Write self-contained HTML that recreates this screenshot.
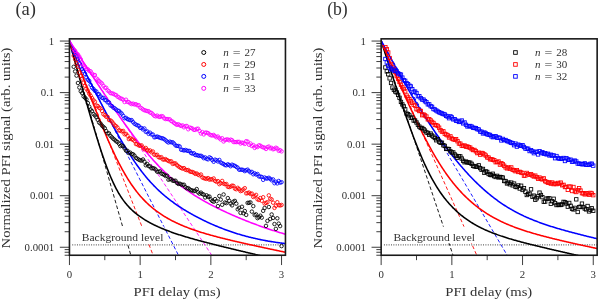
<!DOCTYPE html>
<html><head><meta charset="utf-8"><title>PFI decay</title>
<style>html,body{margin:0;padding:0;background:#fff;}body{width:598px;height:301px;overflow:hidden;font-family:"Liberation Serif",serif;}svg{display:block;}text{filter:grayscale(1);}</style></head>
<body>
<svg width="598" height="301" viewBox="0 0 598 301" font-family="'Liberation Serif', serif" fill="#303030">
<rect width="598" height="301" fill="#fff"/>
<defs>
<clipPath id="clipa"><rect x="69.45" y="38.85" width="216" height="216.4"/></clipPath>
<clipPath id="clipb"><rect x="381.15" y="38.85" width="216" height="216.4"/></clipPath>
</defs>
<g id="panel-a">
<g clip-path="url(#clipa)">
<line x1="72.25" y1="244.9" x2="285.45" y2="244.9" stroke="#2a2a2a" stroke-width="0.95" stroke-dasharray="0.95 1.41"/>
<line x1="69.45" y1="41.05" x2="131.4" y2="257.25" stroke="#000" stroke-width="0.9" stroke-dasharray="3.6 2.3"/>
<line x1="69.45" y1="41.05" x2="153.9" y2="257.25" stroke="#ff0000" stroke-width="0.9" stroke-dasharray="3.6 2.3"/>
<line x1="69.45" y1="41.05" x2="179.48" y2="257.25" stroke="#0000ff" stroke-width="0.9" stroke-dasharray="3.6 2.3"/>
<line x1="69.45" y1="41.05" x2="213.1" y2="257.25" stroke="#ff00ff" stroke-width="0.9" stroke-dasharray="3.6 2.3"/>
<rect x="80.55" y="226.6" width="84" height="16.6" fill="#fff"/>
<text x="81.75" y="240.5" font-size="10.9" textLength="81.6" lengthAdjust="spacingAndGlyphs">Background level</text>
<path d="M69.45 41.88 L70.18 44.5 L70.91 47.13 L71.64 49.75 L72.37 52.37 L73.1 54.99 L73.82 57.6 L74.55 60.22 L75.28 62.83 L76.01 65.44 L76.74 68.05 L77.47 70.65 L78.2 73.25 L78.93 75.85 L79.66 78.45 L80.39 81.04 L81.12 83.62 L81.84 86.21 L82.57 88.78 L83.3 91.36 L84.03 93.93 L84.76 96.49 L85.49 99.04 L86.22 101.59 L86.95 104.13 L87.68 106.66 L88.41 109.19 L89.14 111.7 L89.86 114.21 L90.59 116.7 L91.32 119.19 L92.05 121.66 L92.78 124.11 L93.51 126.56 L94.24 128.98 L94.97 131.39 L95.7 133.79 L96.43 136.16 L97.16 138.52 L97.88 140.85 L98.61 143.17 L99.34 145.45 L100.07 147.72 L100.8 149.96 L101.53 152.16 L102.26 154.34 L102.99 156.49 L103.72 158.61 L104.45 160.69 L105.18 162.74 L105.9 164.75 L106.63 166.73 L107.36 168.66 L108.09 170.56 L108.82 172.41 L109.55 174.22 L110.28 175.99 L111.01 177.72 L111.74 179.4 L112.47 181.04 L113.2 182.63 L113.92 184.17 L114.65 185.67 L115.38 187.13 L116.11 188.54 L116.84 189.91 L117.57 191.23 L118.3 192.52 L119.03 193.76 L119.76 194.96 L120.49 196.11 L121.22 197.23 L121.94 198.32 L122.67 199.36 L123.4 200.37 L124.13 201.35 L124.86 202.3 L125.59 203.21 L126.32 204.09 L127.05 204.95 L127.78 205.78 L128.51 206.58 L129.24 207.36 L129.97 208.11 L130.69 208.84 L131.42 209.55 L132.15 210.24 L132.88 210.91 L133.61 211.56 L134.34 212.19 L135.07 212.81 L135.8 213.41 L136.53 213.99 L137.26 214.56 L137.99 215.12 L138.71 215.66 L139.44 216.2 L140.17 216.71 L140.9 217.22 L141.63 217.72 L142.36 218.2 L143.09 218.68 L143.82 219.15 L144.55 219.6 L145.28 220.05 L146.01 220.49 L146.73 220.92 L147.46 221.34 L148.19 221.76 L148.92 222.17 L149.65 222.57 L150.38 222.96 L151.11 223.35 L151.84 223.73 L152.57 224.1 L153.3 224.47 L154.03 224.83 L154.75 225.19 L155.48 225.54 L156.21 225.89 L156.94 226.23 L157.67 226.56 L158.4 226.9 L159.13 227.22 L159.86 227.54 L160.59 227.86 L161.32 228.17 L162.05 228.48 L162.77 228.78 L163.5 229.08 L164.23 229.38 L164.96 229.67 L165.69 229.96 L166.42 230.25 L167.15 230.53 L167.88 230.81 L168.61 231.08 L169.34 231.35 L170.07 231.62 L170.79 231.89 L171.52 232.15 L172.25 232.41 L172.98 232.67 L173.71 232.92 L174.44 233.18 L175.17 233.42 L175.9 233.67 L176.63 233.92 L177.36 234.16 L178.09 234.4 L178.81 234.64 L179.54 234.87 L180.27 235.11 L181 235.34 L181.73 235.57 L182.46 235.8 L183.19 236.02 L183.92 236.25 L184.65 236.47 L185.38 236.69 L186.11 236.91 L186.83 237.13 L187.56 237.34 L188.29 237.56 L189.02 237.77 L189.75 237.98 L190.48 238.19 L191.21 238.4 L191.94 238.61 L192.67 238.82 L193.4 239.02 L194.13 239.23 L194.85 239.43 L195.58 239.63 L196.31 239.83 L197.04 240.03 L197.77 240.23 L198.5 240.43 L199.23 240.63 L199.96 240.82 L200.69 241.02 L201.42 241.21 L202.15 241.41 L202.87 241.6 L203.6 241.79 L204.33 241.98 L205.06 242.18 L205.79 242.37 L206.52 242.55 L207.25 242.74 L207.98 242.93 L208.71 243.12 L209.44 243.31 L210.17 243.49 L210.89 243.68 L211.62 243.87 L212.35 244.05 L213.08 244.23 L213.81 244.42 L214.54 244.6 L215.27 244.79 L216 244.97 L216.73 245.15 L217.46 245.33 L218.19 245.51 L218.91 245.69 L219.64 245.88 L220.37 246.06 L221.1 246.24 L221.83 246.42 L222.56 246.59 L223.29 246.77 L224.02 246.95 L224.75 247.13 L225.48 247.31 L226.21 247.49 L226.93 247.66 L227.66 247.84 L228.39 248.02 L229.12 248.2 L229.85 248.37 L230.58 248.55 L231.31 248.73 L232.04 248.9 L232.77 249.08 L233.5 249.25 L234.23 249.43 L234.96 249.6 L235.68 249.78 L236.41 249.95 L237.14 250.13 L237.87 250.3 L238.6 250.48 L239.33 250.65 L240.06 250.83 L240.79 251 L241.52 251.18 L242.25 251.35 L242.98 251.52 L243.7 251.7 L244.43 251.87 L245.16 252.04 L245.89 252.22 L246.62 252.39 L247.35 252.56 L248.08 252.74 L248.81 252.91 L249.54 253.08 L250.27 253.25 L251 253.43 L251.72 253.6 L252.45 253.77 L253.18 253.94 L253.91 254.12 L254.64 254.29 L255.37 254.46 L256.1 254.63 L256.83 254.81 L257.56 254.98 L258.29 255.15 L259.02 255.32 L259.74 255.49 L260.47 255.66 L261.2 255.84 L261.93 256.01 L262.66 256.18 L263.39 256.35 L264.12 256.52 L264.85 256.69 L265.58 256.87 L266.31 257.04 L267.04 257.21 L267.76 257.38 L268.49 257.55 L269.22 257.72 L269.95 257.89 L270.68 258.06 L271.41 258.24 L272.14 258.41 L272.87 258.58 L273.6 258.75 L274.33 258.92 L275.06 259.09 L275.78 259.26 L276.51 259.43 L277.24 259.6 L277.97 259.77 L278.7 259.95 L279.43 260.12 L280.16 260.29 L280.89 260.46 L281.62 260.63 L282.35 260.8 L283.08 260.97 L283.8 261.14 L284.53 261.31 L285.26 261.48 L285.99 261.65 L286.72 261.82 L287.45 261.99" fill="none" stroke="#000" stroke-width="1.55" stroke-linejoin="round"/>
<path d="M69.45 41.23 L70.18 43.19 L70.91 45.15 L71.64 47.1 L72.37 49.06 L73.1 51.01 L73.82 52.96 L74.55 54.91 L75.28 56.86 L76.01 58.8 L76.74 60.75 L77.47 62.69 L78.2 64.63 L78.93 66.57 L79.66 68.5 L80.39 70.43 L81.12 72.36 L81.84 74.29 L82.57 76.22 L83.3 78.14 L84.03 80.06 L84.76 81.97 L85.49 83.88 L86.22 85.79 L86.95 87.69 L87.68 89.59 L88.41 91.49 L89.14 93.38 L89.86 95.27 L90.59 97.15 L91.32 99.02 L92.05 100.89 L92.78 102.76 L93.51 104.62 L94.24 106.47 L94.97 108.32 L95.7 110.16 L96.43 111.99 L97.16 113.82 L97.88 115.64 L98.61 117.45 L99.34 119.25 L100.07 121.04 L100.8 122.83 L101.53 124.6 L102.26 126.36 L102.99 128.12 L103.72 129.86 L104.45 131.6 L105.18 133.32 L105.9 135.03 L106.63 136.73 L107.36 138.41 L108.09 140.08 L108.82 141.74 L109.55 143.39 L110.28 145.02 L111.01 146.63 L111.74 148.23 L112.47 149.82 L113.2 151.38 L113.92 152.94 L114.65 154.47 L115.38 155.99 L116.11 157.49 L116.84 158.97 L117.57 160.43 L118.3 161.88 L119.03 163.31 L119.76 164.71 L120.49 166.1 L121.22 167.47 L121.94 168.81 L122.67 170.14 L123.4 171.45 L124.13 172.73 L124.86 174 L125.59 175.24 L126.32 176.47 L127.05 177.67 L127.78 178.85 L128.51 180.01 L129.24 181.16 L129.97 182.27 L130.69 183.37 L131.42 184.45 L132.15 185.51 L132.88 186.55 L133.61 187.57 L134.34 188.57 L135.07 189.55 L135.8 190.51 L136.53 191.45 L137.26 192.37 L137.99 193.27 L138.71 194.16 L139.44 195.03 L140.17 195.88 L140.9 196.71 L141.63 197.53 L142.36 198.33 L143.09 199.11 L143.82 199.88 L144.55 200.63 L145.28 201.37 L146.01 202.09 L146.73 202.8 L147.46 203.49 L148.19 204.17 L148.92 204.84 L149.65 205.5 L150.38 206.14 L151.11 206.77 L151.84 207.39 L152.57 207.99 L153.3 208.58 L154.03 209.17 L154.75 209.74 L155.48 210.3 L156.21 210.85 L156.94 211.39 L157.67 211.92 L158.4 212.45 L159.13 212.96 L159.86 213.46 L160.59 213.96 L161.32 214.44 L162.05 214.92 L162.77 215.39 L163.5 215.85 L164.23 216.3 L164.96 216.75 L165.69 217.19 L166.42 217.62 L167.15 218.04 L167.88 218.46 L168.61 218.87 L169.34 219.27 L170.07 219.67 L170.79 220.06 L171.52 220.44 L172.25 220.82 L172.98 221.19 L173.71 221.56 L174.44 221.92 L175.17 222.28 L175.9 222.63 L176.63 222.98 L177.36 223.32 L178.09 223.65 L178.81 223.98 L179.54 224.31 L180.27 224.63 L181 224.95 L181.73 225.26 L182.46 225.57 L183.19 225.88 L183.92 226.18 L184.65 226.47 L185.38 226.77 L186.11 227.05 L186.83 227.34 L187.56 227.62 L188.29 227.9 L189.02 228.17 L189.75 228.44 L190.48 228.71 L191.21 228.98 L191.94 229.24 L192.67 229.5 L193.4 229.75 L194.13 230.01 L194.85 230.26 L195.58 230.5 L196.31 230.75 L197.04 230.99 L197.77 231.23 L198.5 231.47 L199.23 231.7 L199.96 231.93 L200.69 232.16 L201.42 232.39 L202.15 232.62 L202.87 232.84 L203.6 233.06 L204.33 233.28 L205.06 233.5 L205.79 233.71 L206.52 233.93 L207.25 234.14 L207.98 234.35 L208.71 234.56 L209.44 234.76 L210.17 234.97 L210.89 235.17 L211.62 235.38 L212.35 235.58 L213.08 235.78 L213.81 235.97 L214.54 236.17 L215.27 236.36 L216 236.56 L216.73 236.75 L217.46 236.94 L218.19 237.13 L218.91 237.32 L219.64 237.51 L220.37 237.7 L221.1 237.88 L221.83 238.07 L222.56 238.25 L223.29 238.43 L224.02 238.62 L224.75 238.8 L225.48 238.98 L226.21 239.16 L226.93 239.33 L227.66 239.51 L228.39 239.69 L229.12 239.86 L229.85 240.04 L230.58 240.21 L231.31 240.39 L232.04 240.56 L232.77 240.73 L233.5 240.91 L234.23 241.08 L234.96 241.25 L235.68 241.42 L236.41 241.59 L237.14 241.76 L237.87 241.92 L238.6 242.09 L239.33 242.26 L240.06 242.43 L240.79 242.59 L241.52 242.76 L242.25 242.92 L242.98 243.09 L243.7 243.25 L244.43 243.42 L245.16 243.58 L245.89 243.74 L246.62 243.91 L247.35 244.07 L248.08 244.23 L248.81 244.39 L249.54 244.56 L250.27 244.72 L251 244.88 L251.72 245.04 L252.45 245.2 L253.18 245.36 L253.91 245.52 L254.64 245.68 L255.37 245.84 L256.1 246 L256.83 246.16 L257.56 246.31 L258.29 246.47 L259.02 246.63 L259.74 246.79 L260.47 246.95 L261.2 247.1 L261.93 247.26 L262.66 247.42 L263.39 247.58 L264.12 247.73 L264.85 247.89 L265.58 248.05 L266.31 248.2 L267.04 248.36 L267.76 248.51 L268.49 248.67 L269.22 248.83 L269.95 248.98 L270.68 249.14 L271.41 249.29 L272.14 249.45 L272.87 249.6 L273.6 249.76 L274.33 249.91 L275.06 250.07 L275.78 250.22 L276.51 250.37 L277.24 250.53 L277.97 250.68 L278.7 250.84 L279.43 250.99 L280.16 251.15 L280.89 251.3 L281.62 251.45 L282.35 251.61 L283.08 251.76 L283.8 251.91 L284.53 252.07 L285.26 252.22 L285.99 252.37 L286.72 252.53 L287.45 252.68" fill="none" stroke="#ff0000" stroke-width="1.55" stroke-linejoin="round"/>
<path d="M69.45 40.5 L70.18 41.97 L70.91 43.45 L71.64 44.92 L72.37 46.39 L73.1 47.86 L73.82 49.33 L74.55 50.79 L75.28 52.26 L76.01 53.73 L76.74 55.2 L77.47 56.66 L78.2 58.13 L78.93 59.59 L79.66 61.05 L80.39 62.51 L81.12 63.97 L81.84 65.43 L82.57 66.89 L83.3 68.35 L84.03 69.81 L84.76 71.26 L85.49 72.71 L86.22 74.17 L86.95 75.62 L87.68 77.07 L88.41 78.51 L89.14 79.96 L89.86 81.4 L90.59 82.85 L91.32 84.29 L92.05 85.72 L92.78 87.16 L93.51 88.6 L94.24 90.03 L94.97 91.46 L95.7 92.89 L96.43 94.31 L97.16 95.73 L97.88 97.15 L98.61 98.57 L99.34 99.98 L100.07 101.4 L100.8 102.8 L101.53 104.21 L102.26 105.61 L102.99 107.01 L103.72 108.4 L104.45 109.79 L105.18 111.18 L105.9 112.56 L106.63 113.94 L107.36 115.31 L108.09 116.68 L108.82 118.04 L109.55 119.4 L110.28 120.76 L111.01 122.11 L111.74 123.45 L112.47 124.79 L113.2 126.12 L113.92 127.45 L114.65 128.77 L115.38 130.08 L116.11 131.39 L116.84 132.69 L117.57 133.98 L118.3 135.26 L119.03 136.54 L119.76 137.81 L120.49 139.08 L121.22 140.33 L121.94 141.58 L122.67 142.82 L123.4 144.05 L124.13 145.27 L124.86 146.48 L125.59 147.68 L126.32 148.87 L127.05 150.05 L127.78 151.23 L128.51 152.39 L129.24 153.54 L129.97 154.68 L130.69 155.82 L131.42 156.94 L132.15 158.05 L132.88 159.14 L133.61 160.23 L134.34 161.31 L135.07 162.37 L135.8 163.42 L136.53 164.46 L137.26 165.49 L137.99 166.51 L138.71 167.52 L139.44 168.51 L140.17 169.49 L140.9 170.46 L141.63 171.41 L142.36 172.36 L143.09 173.29 L143.82 174.21 L144.55 175.12 L145.28 176.01 L146.01 176.9 L146.73 177.77 L147.46 178.63 L148.19 179.47 L148.92 180.31 L149.65 181.13 L150.38 181.95 L151.11 182.75 L151.84 183.54 L152.57 184.32 L153.3 185.08 L154.03 185.84 L154.75 186.58 L155.48 187.32 L156.21 188.04 L156.94 188.76 L157.67 189.46 L158.4 190.16 L159.13 190.84 L159.86 191.51 L160.59 192.18 L161.32 192.84 L162.05 193.48 L162.77 194.12 L163.5 194.75 L164.23 195.37 L164.96 195.98 L165.69 196.59 L166.42 197.18 L167.15 197.77 L167.88 198.35 L168.61 198.93 L169.34 199.5 L170.07 200.05 L170.79 200.61 L171.52 201.15 L172.25 201.69 L172.98 202.23 L173.71 202.75 L174.44 203.27 L175.17 203.79 L175.9 204.3 L176.63 204.8 L177.36 205.3 L178.09 205.79 L178.81 206.28 L179.54 206.76 L180.27 207.24 L181 207.71 L181.73 208.18 L182.46 208.64 L183.19 209.1 L183.92 209.55 L184.65 210 L185.38 210.45 L186.11 210.89 L186.83 211.33 L187.56 211.76 L188.29 212.19 L189.02 212.61 L189.75 213.03 L190.48 213.45 L191.21 213.86 L191.94 214.27 L192.67 214.68 L193.4 215.08 L194.13 215.48 L194.85 215.87 L195.58 216.27 L196.31 216.65 L197.04 217.04 L197.77 217.42 L198.5 217.8 L199.23 218.18 L199.96 218.55 L200.69 218.92 L201.42 219.28 L202.15 219.65 L202.87 220.01 L203.6 220.36 L204.33 220.72 L205.06 221.07 L205.79 221.41 L206.52 221.76 L207.25 222.1 L207.98 222.44 L208.71 222.78 L209.44 223.11 L210.17 223.44 L210.89 223.77 L211.62 224.09 L212.35 224.41 L213.08 224.73 L213.81 225.04 L214.54 225.36 L215.27 225.67 L216 225.97 L216.73 226.28 L217.46 226.58 L218.19 226.88 L218.91 227.17 L219.64 227.47 L220.37 227.76 L221.1 228.05 L221.83 228.33 L222.56 228.61 L223.29 228.89 L224.02 229.17 L224.75 229.44 L225.48 229.71 L226.21 229.98 L226.93 230.24 L227.66 230.51 L228.39 230.77 L229.12 231.02 L229.85 231.28 L230.58 231.53 L231.31 231.78 L232.04 232.03 L232.77 232.27 L233.5 232.51 L234.23 232.75 L234.96 232.98 L235.68 233.22 L236.41 233.45 L237.14 233.67 L237.87 233.9 L238.6 234.12 L239.33 234.34 L240.06 234.56 L240.79 234.77 L241.52 234.98 L242.25 235.19 L242.98 235.4 L243.7 235.6 L244.43 235.81 L245.16 236.01 L245.89 236.2 L246.62 236.4 L247.35 236.59 L248.08 236.78 L248.81 236.96 L249.54 237.15 L250.27 237.33 L251 237.51 L251.72 237.69 L252.45 237.86 L253.18 238.03 L253.91 238.2 L254.64 238.37 L255.37 238.53 L256.1 238.7 L256.83 238.86 L257.56 239.02 L258.29 239.17 L259.02 239.33 L259.74 239.48 L260.47 239.63 L261.2 239.78 L261.93 239.92 L262.66 240.06 L263.39 240.21 L264.12 240.34 L264.85 240.48 L265.58 240.62 L266.31 240.75 L267.04 240.88 L267.76 241.01 L268.49 241.14 L269.22 241.26 L269.95 241.38 L270.68 241.5 L271.41 241.62 L272.14 241.74 L272.87 241.86 L273.6 241.97 L274.33 242.08 L275.06 242.19 L275.78 242.3 L276.51 242.41 L277.24 242.51 L277.97 242.62 L278.7 242.72 L279.43 242.82 L280.16 242.92 L280.89 243.01 L281.62 243.11 L282.35 243.2 L283.08 243.29 L283.8 243.38 L284.53 243.47 L285.26 243.56 L285.99 243.65 L286.72 243.73 L287.45 243.82" fill="none" stroke="#0000ff" stroke-width="1.55" stroke-linejoin="round"/>
<path d="M69.45 40.54 L70.18 41.67 L70.91 42.8 L71.64 43.94 L72.37 45.07 L73.1 46.2 L73.82 47.33 L74.55 48.46 L75.28 49.59 L76.01 50.72 L76.74 51.85 L77.47 52.98 L78.2 54.11 L78.93 55.24 L79.66 56.37 L80.39 57.5 L81.12 58.62 L81.84 59.75 L82.57 60.87 L83.3 62 L84.03 63.12 L84.76 64.25 L85.49 65.37 L86.22 66.49 L86.95 67.61 L87.68 68.73 L88.41 69.85 L89.14 70.97 L89.86 72.09 L90.59 73.21 L91.32 74.32 L92.05 75.44 L92.78 76.55 L93.51 77.67 L94.24 78.78 L94.97 79.89 L95.7 81 L96.43 82.11 L97.16 83.22 L97.88 84.32 L98.61 85.43 L99.34 86.53 L100.07 87.64 L100.8 88.74 L101.53 89.84 L102.26 90.94 L102.99 92.03 L103.72 93.13 L104.45 94.22 L105.18 95.32 L105.9 96.41 L106.63 97.5 L107.36 98.58 L108.09 99.67 L108.82 100.75 L109.55 101.83 L110.28 102.91 L111.01 103.99 L111.74 105.06 L112.47 106.14 L113.2 107.21 L113.92 108.27 L114.65 109.34 L115.38 110.4 L116.11 111.46 L116.84 112.52 L117.57 113.58 L118.3 114.63 L119.03 115.68 L119.76 116.72 L120.49 117.77 L121.22 118.81 L121.94 119.85 L122.67 120.88 L123.4 121.91 L124.13 122.94 L124.86 123.96 L125.59 124.98 L126.32 126 L127.05 127.01 L127.78 128.02 L128.51 129.02 L129.24 130.02 L129.97 131.02 L130.69 132.01 L131.42 133 L132.15 133.98 L132.88 134.96 L133.61 135.94 L134.34 136.9 L135.07 137.87 L135.8 138.83 L136.53 139.78 L137.26 140.73 L137.99 141.68 L138.71 142.62 L139.44 143.55 L140.17 144.48 L140.9 145.4 L141.63 146.32 L142.36 147.23 L143.09 148.13 L143.82 149.03 L144.55 149.93 L145.28 150.81 L146.01 151.69 L146.73 152.57 L147.46 153.44 L148.19 154.3 L148.92 155.15 L149.65 156 L150.38 156.85 L151.11 157.68 L151.84 158.51 L152.57 159.33 L153.3 160.15 L154.03 160.96 L154.75 161.76 L155.48 162.55 L156.21 163.34 L156.94 164.12 L157.67 164.89 L158.4 165.66 L159.13 166.42 L159.86 167.17 L160.59 167.92 L161.32 168.65 L162.05 169.39 L162.77 170.11 L163.5 170.83 L164.23 171.53 L164.96 172.24 L165.69 172.93 L166.42 173.62 L167.15 174.3 L167.88 174.98 L168.61 175.64 L169.34 176.3 L170.07 176.96 L170.79 177.6 L171.52 178.24 L172.25 178.88 L172.98 179.5 L173.71 180.12 L174.44 180.73 L175.17 181.34 L175.9 181.94 L176.63 182.53 L177.36 183.12 L178.09 183.7 L178.81 184.28 L179.54 184.85 L180.27 185.41 L181 185.97 L181.73 186.52 L182.46 187.06 L183.19 187.6 L183.92 188.14 L184.65 188.66 L185.38 189.19 L186.11 189.71 L186.83 190.22 L187.56 190.72 L188.29 191.23 L189.02 191.72 L189.75 192.22 L190.48 192.7 L191.21 193.19 L191.94 193.67 L192.67 194.14 L193.4 194.61 L194.13 195.07 L194.85 195.53 L195.58 195.99 L196.31 196.44 L197.04 196.89 L197.77 197.33 L198.5 197.77 L199.23 198.21 L199.96 198.64 L200.69 199.07 L201.42 199.5 L202.15 199.92 L202.87 200.34 L203.6 200.75 L204.33 201.16 L205.06 201.57 L205.79 201.98 L206.52 202.38 L207.25 202.78 L207.98 203.17 L208.71 203.57 L209.44 203.96 L210.17 204.34 L210.89 204.73 L211.62 205.11 L212.35 205.49 L213.08 205.87 L213.81 206.24 L214.54 206.61 L215.27 206.98 L216 207.35 L216.73 207.71 L217.46 208.07 L218.19 208.43 L218.91 208.79 L219.64 209.15 L220.37 209.5 L221.1 209.85 L221.83 210.2 L222.56 210.54 L223.29 210.89 L224.02 211.23 L224.75 211.57 L225.48 211.91 L226.21 212.25 L226.93 212.58 L227.66 212.91 L228.39 213.25 L229.12 213.57 L229.85 213.9 L230.58 214.23 L231.31 214.55 L232.04 214.87 L232.77 215.19 L233.5 215.51 L234.23 215.83 L234.96 216.14 L235.68 216.46 L236.41 216.77 L237.14 217.08 L237.87 217.39 L238.6 217.69 L239.33 218 L240.06 218.3 L240.79 218.6 L241.52 218.9 L242.25 219.2 L242.98 219.5 L243.7 219.8 L244.43 220.09 L245.16 220.38 L245.89 220.67 L246.62 220.96 L247.35 221.25 L248.08 221.54 L248.81 221.82 L249.54 222.11 L250.27 222.39 L251 222.67 L251.72 222.95 L252.45 223.23 L253.18 223.5 L253.91 223.78 L254.64 224.05 L255.37 224.32 L256.1 224.59 L256.83 224.86 L257.56 225.13 L258.29 225.39 L259.02 225.66 L259.74 225.92 L260.47 226.18 L261.2 226.44 L261.93 226.7 L262.66 226.95 L263.39 227.21 L264.12 227.46 L264.85 227.72 L265.58 227.97 L266.31 228.21 L267.04 228.46 L267.76 228.71 L268.49 228.95 L269.22 229.2 L269.95 229.44 L270.68 229.68 L271.41 229.92 L272.14 230.15 L272.87 230.39 L273.6 230.62 L274.33 230.86 L275.06 231.09 L275.78 231.32 L276.51 231.54 L277.24 231.77 L277.97 231.99 L278.7 232.22 L279.43 232.44 L280.16 232.66 L280.89 232.88 L281.62 233.1 L282.35 233.31 L283.08 233.52 L283.8 233.74 L284.53 233.95 L285.26 234.16 L285.99 234.37 L286.72 234.57 L287.45 234.78" fill="none" stroke="#ff00ff" stroke-width="1.55" stroke-linejoin="round"/>
<g fill="none" stroke="#000" stroke-width="0.85"><circle cx="73.69" cy="66.81" r="1.75"/><circle cx="75.11" cy="71.43" r="1.75"/><circle cx="76.52" cy="75.64" r="1.75"/><circle cx="77.93" cy="82.98" r="1.75"/><circle cx="79.35" cy="87.48" r="1.75"/><circle cx="80.76" cy="91.31" r="1.75"/><circle cx="82.18" cy="93.16" r="1.75"/><circle cx="83.59" cy="96.39" r="1.75"/><circle cx="85" cy="97.66" r="1.75"/><circle cx="86.42" cy="99.42" r="1.75"/><circle cx="87.83" cy="103.05" r="1.75"/><circle cx="89.25" cy="106.71" r="1.75"/><circle cx="90.66" cy="109.61" r="1.75"/><circle cx="92.07" cy="111.17" r="1.75"/><circle cx="93.49" cy="114.03" r="1.75"/><circle cx="94.9" cy="115.46" r="1.75"/><circle cx="96.32" cy="117.25" r="1.75"/><circle cx="97.73" cy="119.78" r="1.75"/><circle cx="99.14" cy="122.56" r="1.75"/><circle cx="100.56" cy="123.59" r="1.75"/><circle cx="101.97" cy="125.54" r="1.75"/><circle cx="103.39" cy="126.87" r="1.75"/><circle cx="104.8" cy="128.24" r="1.75"/><circle cx="106.21" cy="131.06" r="1.75"/><circle cx="107.63" cy="133.41" r="1.75"/><circle cx="109.04" cy="133.35" r="1.75"/><circle cx="110.46" cy="135.87" r="1.75"/><circle cx="111.87" cy="137.31" r="1.75"/><circle cx="113.28" cy="138.73" r="1.75"/><circle cx="114.7" cy="139.85" r="1.75"/><circle cx="116.11" cy="141.24" r="1.75"/><circle cx="117.53" cy="142.04" r="1.75"/><circle cx="118.94" cy="143.67" r="1.75"/><circle cx="120.35" cy="146.15" r="1.75"/><circle cx="121.77" cy="145.52" r="1.75"/><circle cx="123.18" cy="146.3" r="1.75"/><circle cx="124.6" cy="148.49" r="1.75"/><circle cx="126.01" cy="150.66" r="1.75"/><circle cx="127.42" cy="150.76" r="1.75"/><circle cx="128.84" cy="152.96" r="1.75"/><circle cx="130.25" cy="152.65" r="1.75"/><circle cx="131.67" cy="154.02" r="1.75"/><circle cx="133.08" cy="154.25" r="1.75"/><circle cx="134.49" cy="155.7" r="1.75"/><circle cx="135.91" cy="157.89" r="1.75"/><circle cx="137.32" cy="158.66" r="1.75"/><circle cx="138.74" cy="159.65" r="1.75"/><circle cx="140.15" cy="160.3" r="1.75"/><circle cx="141.56" cy="160.62" r="1.75"/><circle cx="142.98" cy="159.48" r="1.75"/><circle cx="144.39" cy="161.61" r="1.75"/><circle cx="145.81" cy="165.25" r="1.75"/><circle cx="147.22" cy="163.97" r="1.75"/><circle cx="148.63" cy="166.06" r="1.75"/><circle cx="150.05" cy="166.51" r="1.75"/><circle cx="151.46" cy="168.31" r="1.75"/><circle cx="152.88" cy="168.22" r="1.75"/><circle cx="154.29" cy="168.49" r="1.75"/><circle cx="155.7" cy="169.64" r="1.75"/><circle cx="157.12" cy="171.66" r="1.75"/><circle cx="158.53" cy="171.75" r="1.75"/><circle cx="159.95" cy="171.35" r="1.75"/><circle cx="161.36" cy="173.52" r="1.75"/><circle cx="162.77" cy="174.1" r="1.75"/><circle cx="164.19" cy="174.75" r="1.75"/><circle cx="165.6" cy="175.98" r="1.75"/><circle cx="167.02" cy="175.67" r="1.75"/><circle cx="168.43" cy="179.73" r="1.75"/><circle cx="169.84" cy="179.07" r="1.75"/><circle cx="171.26" cy="179.16" r="1.75"/><circle cx="172.67" cy="180.69" r="1.75"/><circle cx="174.09" cy="180.88" r="1.75"/><circle cx="175.5" cy="180.71" r="1.75"/><circle cx="176.91" cy="182.89" r="1.75"/><circle cx="178.33" cy="183.9" r="1.75"/><circle cx="179.74" cy="183.67" r="1.75"/><circle cx="181.16" cy="184.42" r="1.75"/><circle cx="182.57" cy="184.91" r="1.75"/><circle cx="183.98" cy="184.69" r="1.75"/><circle cx="185.4" cy="187.09" r="1.75"/><circle cx="186.81" cy="188.24" r="1.75"/><circle cx="188.23" cy="188.1" r="1.75"/><circle cx="189.64" cy="189.31" r="1.75"/><circle cx="191.05" cy="190.26" r="1.75"/><circle cx="192.47" cy="190.43" r="1.75"/><circle cx="193.88" cy="191.17" r="1.75"/><circle cx="195.3" cy="190.77" r="1.75"/><circle cx="196.71" cy="189.06" r="1.75"/><circle cx="198.12" cy="192.35" r="1.75"/><circle cx="199.54" cy="193.63" r="1.75"/><circle cx="200.95" cy="192.61" r="1.75"/><circle cx="202.37" cy="194.03" r="1.75"/><circle cx="203.78" cy="194.62" r="1.75"/><circle cx="205.19" cy="197.47" r="1.75"/><circle cx="206.61" cy="195.35" r="1.75"/><circle cx="208.02" cy="196.76" r="1.75"/><circle cx="209.44" cy="196.55" r="1.75"/><circle cx="210.85" cy="199.46" r="1.75"/><circle cx="212.26" cy="201" r="1.75"/><circle cx="213.68" cy="201.74" r="1.75"/><circle cx="215.09" cy="199.12" r="1.75"/><circle cx="216.51" cy="201.17" r="1.75"/><circle cx="217.92" cy="206.14" r="1.75"/><circle cx="219.33" cy="195.97" r="1.75"/><circle cx="220.75" cy="199.63" r="1.75"/><circle cx="222.16" cy="204.78" r="1.75"/><circle cx="223.58" cy="194.49" r="1.75"/><circle cx="224.99" cy="202.53" r="1.75"/><circle cx="226.4" cy="203.13" r="1.75"/><circle cx="227.82" cy="198.1" r="1.75"/><circle cx="229.23" cy="200.81" r="1.75"/><circle cx="230.65" cy="203.63" r="1.75"/><circle cx="232.06" cy="205.37" r="1.75"/><circle cx="233.47" cy="201.68" r="1.75"/><circle cx="234.89" cy="200.91" r="1.75"/><circle cx="236.3" cy="203.62" r="1.75"/><circle cx="237.72" cy="209.26" r="1.75"/><circle cx="239.13" cy="207.81" r="1.75"/><circle cx="240.54" cy="212.86" r="1.75"/><circle cx="241.96" cy="206.77" r="1.75"/><circle cx="243.37" cy="213.23" r="1.75"/><circle cx="244.79" cy="211.02" r="1.75"/><circle cx="246.2" cy="214.91" r="1.75"/><circle cx="247.61" cy="202.91" r="1.75"/><circle cx="249.03" cy="202.79" r="1.75"/><circle cx="250.44" cy="202.39" r="1.75"/><circle cx="251.86" cy="211.61" r="1.75"/><circle cx="253.27" cy="206.12" r="1.75"/><circle cx="254.68" cy="215" r="1.75"/><circle cx="256.1" cy="214.35" r="1.75"/><circle cx="257.51" cy="218.13" r="1.75"/><circle cx="258.93" cy="217.2" r="1.75"/><circle cx="260.34" cy="215.69" r="1.75"/><circle cx="261.75" cy="217.64" r="1.75"/><circle cx="263.17" cy="210.84" r="1.75"/><circle cx="264.58" cy="208.03" r="1.75"/><circle cx="266" cy="225.87" r="1.75"/><circle cx="267.41" cy="220.89" r="1.75"/><circle cx="268.82" cy="207.02" r="1.75"/><circle cx="270.24" cy="218.96" r="1.75"/><circle cx="271.65" cy="214.47" r="1.75"/><circle cx="273.07" cy="217.96" r="1.75"/><circle cx="274.48" cy="224.03" r="1.75"/><circle cx="275.89" cy="228.86" r="1.75"/><circle cx="277.31" cy="218.3" r="1.75"/><circle cx="278.72" cy="223.62" r="1.75"/><circle cx="280.14" cy="226.08" r="1.75"/><circle cx="281.55" cy="246.1" r="1.75"/></g>
<g fill="none" stroke="#ff0000" stroke-width="0.85"><circle cx="73.69" cy="55.78" r="1.75"/><circle cx="75.11" cy="59.28" r="1.75"/><circle cx="76.52" cy="63.53" r="1.75"/><circle cx="77.93" cy="66.72" r="1.75"/><circle cx="79.35" cy="72.57" r="1.75"/><circle cx="80.76" cy="76.13" r="1.75"/><circle cx="82.18" cy="78.55" r="1.75"/><circle cx="83.59" cy="82.84" r="1.75"/><circle cx="85" cy="85.66" r="1.75"/><circle cx="86.42" cy="88.75" r="1.75"/><circle cx="87.83" cy="90.75" r="1.75"/><circle cx="89.25" cy="93.7" r="1.75"/><circle cx="90.66" cy="95.81" r="1.75"/><circle cx="92.07" cy="98.2" r="1.75"/><circle cx="93.49" cy="100.31" r="1.75"/><circle cx="94.9" cy="101.72" r="1.75"/><circle cx="96.32" cy="105.48" r="1.75"/><circle cx="97.73" cy="106" r="1.75"/><circle cx="99.14" cy="107.78" r="1.75"/><circle cx="100.56" cy="108.47" r="1.75"/><circle cx="101.97" cy="110.92" r="1.75"/><circle cx="103.39" cy="114.24" r="1.75"/><circle cx="104.8" cy="115.14" r="1.75"/><circle cx="106.21" cy="116.73" r="1.75"/><circle cx="107.63" cy="116.97" r="1.75"/><circle cx="109.04" cy="120.04" r="1.75"/><circle cx="110.46" cy="120.32" r="1.75"/><circle cx="111.87" cy="121.58" r="1.75"/><circle cx="113.28" cy="123.36" r="1.75"/><circle cx="114.7" cy="125.16" r="1.75"/><circle cx="116.11" cy="126.22" r="1.75"/><circle cx="117.53" cy="127.67" r="1.75"/><circle cx="118.94" cy="130.41" r="1.75"/><circle cx="120.35" cy="130.68" r="1.75"/><circle cx="121.77" cy="131.4" r="1.75"/><circle cx="123.18" cy="130.94" r="1.75"/><circle cx="124.6" cy="134.24" r="1.75"/><circle cx="126.01" cy="133.85" r="1.75"/><circle cx="127.42" cy="135.61" r="1.75"/><circle cx="128.84" cy="139.05" r="1.75"/><circle cx="130.25" cy="138.16" r="1.75"/><circle cx="131.67" cy="139.25" r="1.75"/><circle cx="133.08" cy="139.71" r="1.75"/><circle cx="134.49" cy="140.97" r="1.75"/><circle cx="135.91" cy="144.04" r="1.75"/><circle cx="137.32" cy="144.28" r="1.75"/><circle cx="138.74" cy="145.42" r="1.75"/><circle cx="140.15" cy="145.82" r="1.75"/><circle cx="141.56" cy="145.34" r="1.75"/><circle cx="142.98" cy="147.53" r="1.75"/><circle cx="144.39" cy="149.2" r="1.75"/><circle cx="145.81" cy="147.95" r="1.75"/><circle cx="147.22" cy="149.87" r="1.75"/><circle cx="148.63" cy="151.04" r="1.75"/><circle cx="150.05" cy="150.41" r="1.75"/><circle cx="151.46" cy="152.3" r="1.75"/><circle cx="152.88" cy="151.5" r="1.75"/><circle cx="154.29" cy="154.66" r="1.75"/><circle cx="155.7" cy="155.03" r="1.75"/><circle cx="157.12" cy="154.77" r="1.75"/><circle cx="158.53" cy="157.14" r="1.75"/><circle cx="159.95" cy="157.67" r="1.75"/><circle cx="161.36" cy="157.15" r="1.75"/><circle cx="162.77" cy="159.39" r="1.75"/><circle cx="164.19" cy="159.59" r="1.75"/><circle cx="165.6" cy="159.1" r="1.75"/><circle cx="167.02" cy="160.13" r="1.75"/><circle cx="168.43" cy="160.92" r="1.75"/><circle cx="169.84" cy="161.55" r="1.75"/><circle cx="171.26" cy="161.26" r="1.75"/><circle cx="172.67" cy="163.88" r="1.75"/><circle cx="174.09" cy="163.39" r="1.75"/><circle cx="175.5" cy="163.39" r="1.75"/><circle cx="176.91" cy="165.1" r="1.75"/><circle cx="178.33" cy="166.22" r="1.75"/><circle cx="179.74" cy="167.21" r="1.75"/><circle cx="181.16" cy="167.98" r="1.75"/><circle cx="182.57" cy="168.67" r="1.75"/><circle cx="183.98" cy="168.09" r="1.75"/><circle cx="185.4" cy="169.71" r="1.75"/><circle cx="186.81" cy="170.13" r="1.75"/><circle cx="188.23" cy="169.99" r="1.75"/><circle cx="189.64" cy="171.37" r="1.75"/><circle cx="191.05" cy="171.83" r="1.75"/><circle cx="192.47" cy="172.03" r="1.75"/><circle cx="193.88" cy="172.69" r="1.75"/><circle cx="195.3" cy="173.86" r="1.75"/><circle cx="196.71" cy="173.5" r="1.75"/><circle cx="198.12" cy="174.66" r="1.75"/><circle cx="199.54" cy="175.32" r="1.75"/><circle cx="200.95" cy="174.5" r="1.75"/><circle cx="202.37" cy="177.45" r="1.75"/><circle cx="203.78" cy="178.09" r="1.75"/><circle cx="205.19" cy="178.58" r="1.75"/><circle cx="206.61" cy="178.93" r="1.75"/><circle cx="208.02" cy="178.05" r="1.75"/><circle cx="209.44" cy="179.63" r="1.75"/><circle cx="210.85" cy="179.22" r="1.75"/><circle cx="212.26" cy="179.49" r="1.75"/><circle cx="213.68" cy="178.45" r="1.75"/><circle cx="215.09" cy="180.96" r="1.75"/><circle cx="216.51" cy="181.81" r="1.75"/><circle cx="217.92" cy="181.08" r="1.75"/><circle cx="219.33" cy="184.17" r="1.75"/><circle cx="220.75" cy="183.18" r="1.75"/><circle cx="222.16" cy="180.93" r="1.75"/><circle cx="223.58" cy="183.66" r="1.75"/><circle cx="224.99" cy="184.2" r="1.75"/><circle cx="226.4" cy="184" r="1.75"/><circle cx="227.82" cy="186.81" r="1.75"/><circle cx="229.23" cy="187.09" r="1.75"/><circle cx="230.65" cy="186.59" r="1.75"/><circle cx="232.06" cy="185.63" r="1.75"/><circle cx="233.47" cy="185.92" r="1.75"/><circle cx="234.89" cy="188.64" r="1.75"/><circle cx="236.3" cy="189.24" r="1.75"/><circle cx="237.72" cy="187.84" r="1.75"/><circle cx="239.13" cy="189.11" r="1.75"/><circle cx="240.54" cy="191.1" r="1.75"/><circle cx="241.96" cy="190.63" r="1.75"/><circle cx="243.37" cy="189.43" r="1.75"/><circle cx="244.79" cy="188.16" r="1.75"/><circle cx="246.2" cy="193.37" r="1.75"/><circle cx="247.61" cy="193.12" r="1.75"/><circle cx="249.03" cy="192.56" r="1.75"/><circle cx="250.44" cy="193.88" r="1.75"/><circle cx="251.86" cy="193.57" r="1.75"/><circle cx="253.27" cy="196.95" r="1.75"/><circle cx="254.68" cy="196.14" r="1.75"/><circle cx="256.1" cy="194.88" r="1.75"/><circle cx="257.51" cy="199.3" r="1.75"/><circle cx="258.93" cy="200" r="1.75"/><circle cx="260.34" cy="198.09" r="1.75"/><circle cx="261.75" cy="200.79" r="1.75"/><circle cx="263.17" cy="197.24" r="1.75"/><circle cx="264.58" cy="203.59" r="1.75"/><circle cx="266" cy="202.86" r="1.75"/><circle cx="267.41" cy="202.19" r="1.75"/><circle cx="268.82" cy="195.39" r="1.75"/><circle cx="270.24" cy="198.78" r="1.75"/><circle cx="271.65" cy="199.43" r="1.75"/><circle cx="273.07" cy="202.7" r="1.75"/><circle cx="274.48" cy="207.9" r="1.75"/><circle cx="275.89" cy="205.85" r="1.75"/><circle cx="277.31" cy="202.2" r="1.75"/><circle cx="278.72" cy="205.13" r="1.75"/><circle cx="280.14" cy="205.46" r="1.75"/><circle cx="281.55" cy="204.94" r="1.75"/></g>
<g fill="none" stroke="#0000ff" stroke-width="0.85"><circle cx="73.69" cy="51.66" r="1.75"/><circle cx="75.11" cy="54.29" r="1.75"/><circle cx="76.52" cy="56.07" r="1.75"/><circle cx="77.93" cy="59.05" r="1.75"/><circle cx="79.35" cy="63.3" r="1.75"/><circle cx="80.76" cy="66.64" r="1.75"/><circle cx="82.18" cy="68.77" r="1.75"/><circle cx="83.59" cy="71.29" r="1.75"/><circle cx="85" cy="73.82" r="1.75"/><circle cx="86.42" cy="77.5" r="1.75"/><circle cx="87.83" cy="79.75" r="1.75"/><circle cx="89.25" cy="80.99" r="1.75"/><circle cx="90.66" cy="84.81" r="1.75"/><circle cx="92.07" cy="87.66" r="1.75"/><circle cx="93.49" cy="89.01" r="1.75"/><circle cx="94.9" cy="90.79" r="1.75"/><circle cx="96.32" cy="91.48" r="1.75"/><circle cx="97.73" cy="94.23" r="1.75"/><circle cx="99.14" cy="94.26" r="1.75"/><circle cx="100.56" cy="96.43" r="1.75"/><circle cx="101.97" cy="97.84" r="1.75"/><circle cx="103.39" cy="97.94" r="1.75"/><circle cx="104.8" cy="99.94" r="1.75"/><circle cx="106.21" cy="100.39" r="1.75"/><circle cx="107.63" cy="102.4" r="1.75"/><circle cx="109.04" cy="102.43" r="1.75"/><circle cx="110.46" cy="105.36" r="1.75"/><circle cx="111.87" cy="106.03" r="1.75"/><circle cx="113.28" cy="107.54" r="1.75"/><circle cx="114.7" cy="108.37" r="1.75"/><circle cx="116.11" cy="109.55" r="1.75"/><circle cx="117.53" cy="110.64" r="1.75"/><circle cx="118.94" cy="110.9" r="1.75"/><circle cx="120.35" cy="112.41" r="1.75"/><circle cx="121.77" cy="113.69" r="1.75"/><circle cx="123.18" cy="115.72" r="1.75"/><circle cx="124.6" cy="118.21" r="1.75"/><circle cx="126.01" cy="117.85" r="1.75"/><circle cx="127.42" cy="119.12" r="1.75"/><circle cx="128.84" cy="119.65" r="1.75"/><circle cx="130.25" cy="120.2" r="1.75"/><circle cx="131.67" cy="120.11" r="1.75"/><circle cx="133.08" cy="122.08" r="1.75"/><circle cx="134.49" cy="123.71" r="1.75"/><circle cx="135.91" cy="124.59" r="1.75"/><circle cx="137.32" cy="125.28" r="1.75"/><circle cx="138.74" cy="125.84" r="1.75"/><circle cx="140.15" cy="127.84" r="1.75"/><circle cx="141.56" cy="127.98" r="1.75"/><circle cx="142.98" cy="129.45" r="1.75"/><circle cx="144.39" cy="128.48" r="1.75"/><circle cx="145.81" cy="131.87" r="1.75"/><circle cx="147.22" cy="131.39" r="1.75"/><circle cx="148.63" cy="133.88" r="1.75"/><circle cx="150.05" cy="132.7" r="1.75"/><circle cx="151.46" cy="134.47" r="1.75"/><circle cx="152.88" cy="134.52" r="1.75"/><circle cx="154.29" cy="137.29" r="1.75"/><circle cx="155.7" cy="137.02" r="1.75"/><circle cx="157.12" cy="136.52" r="1.75"/><circle cx="158.53" cy="137.16" r="1.75"/><circle cx="159.95" cy="137.7" r="1.75"/><circle cx="161.36" cy="138.18" r="1.75"/><circle cx="162.77" cy="138.37" r="1.75"/><circle cx="164.19" cy="139.11" r="1.75"/><circle cx="165.6" cy="140.27" r="1.75"/><circle cx="167.02" cy="141.56" r="1.75"/><circle cx="168.43" cy="142.53" r="1.75"/><circle cx="169.84" cy="141.63" r="1.75"/><circle cx="171.26" cy="142.31" r="1.75"/><circle cx="172.67" cy="142.27" r="1.75"/><circle cx="174.09" cy="143.59" r="1.75"/><circle cx="175.5" cy="145.42" r="1.75"/><circle cx="176.91" cy="145.94" r="1.75"/><circle cx="178.33" cy="146.02" r="1.75"/><circle cx="179.74" cy="146.53" r="1.75"/><circle cx="181.16" cy="149.77" r="1.75"/><circle cx="182.57" cy="149.9" r="1.75"/><circle cx="183.98" cy="150.5" r="1.75"/><circle cx="185.4" cy="149.96" r="1.75"/><circle cx="186.81" cy="150.58" r="1.75"/><circle cx="188.23" cy="150.94" r="1.75"/><circle cx="189.64" cy="150.99" r="1.75"/><circle cx="191.05" cy="153.02" r="1.75"/><circle cx="192.47" cy="153.68" r="1.75"/><circle cx="193.88" cy="153.22" r="1.75"/><circle cx="195.3" cy="155.02" r="1.75"/><circle cx="196.71" cy="155.03" r="1.75"/><circle cx="198.12" cy="155.55" r="1.75"/><circle cx="199.54" cy="155.89" r="1.75"/><circle cx="200.95" cy="155.76" r="1.75"/><circle cx="202.37" cy="156.66" r="1.75"/><circle cx="203.78" cy="158.21" r="1.75"/><circle cx="205.19" cy="157.45" r="1.75"/><circle cx="206.61" cy="158.87" r="1.75"/><circle cx="208.02" cy="159.35" r="1.75"/><circle cx="209.44" cy="157.3" r="1.75"/><circle cx="210.85" cy="158.18" r="1.75"/><circle cx="212.26" cy="159.97" r="1.75"/><circle cx="213.68" cy="161.74" r="1.75"/><circle cx="215.09" cy="159.63" r="1.75"/><circle cx="216.51" cy="160.28" r="1.75"/><circle cx="217.92" cy="161.44" r="1.75"/><circle cx="219.33" cy="159.94" r="1.75"/><circle cx="220.75" cy="162.55" r="1.75"/><circle cx="222.16" cy="163.34" r="1.75"/><circle cx="223.58" cy="163.93" r="1.75"/><circle cx="224.99" cy="165.08" r="1.75"/><circle cx="226.4" cy="165.31" r="1.75"/><circle cx="227.82" cy="164.27" r="1.75"/><circle cx="229.23" cy="165.05" r="1.75"/><circle cx="230.65" cy="166.22" r="1.75"/><circle cx="232.06" cy="164.67" r="1.75"/><circle cx="233.47" cy="165.32" r="1.75"/><circle cx="234.89" cy="165.89" r="1.75"/><circle cx="236.3" cy="166.82" r="1.75"/><circle cx="237.72" cy="167.7" r="1.75"/><circle cx="239.13" cy="169.7" r="1.75"/><circle cx="240.54" cy="169.76" r="1.75"/><circle cx="241.96" cy="169.64" r="1.75"/><circle cx="243.37" cy="170.09" r="1.75"/><circle cx="244.79" cy="171.11" r="1.75"/><circle cx="246.2" cy="170.23" r="1.75"/><circle cx="247.61" cy="169.64" r="1.75"/><circle cx="249.03" cy="171.17" r="1.75"/><circle cx="250.44" cy="172.39" r="1.75"/><circle cx="251.86" cy="171.88" r="1.75"/><circle cx="253.27" cy="174.25" r="1.75"/><circle cx="254.68" cy="173.39" r="1.75"/><circle cx="256.1" cy="174.53" r="1.75"/><circle cx="257.51" cy="174.01" r="1.75"/><circle cx="258.93" cy="176.42" r="1.75"/><circle cx="260.34" cy="176.56" r="1.75"/><circle cx="261.75" cy="176.96" r="1.75"/><circle cx="263.17" cy="179.85" r="1.75"/><circle cx="264.58" cy="177.54" r="1.75"/><circle cx="266" cy="178.4" r="1.75"/><circle cx="267.41" cy="178.52" r="1.75"/><circle cx="268.82" cy="177.77" r="1.75"/><circle cx="270.24" cy="178.8" r="1.75"/><circle cx="271.65" cy="180.27" r="1.75"/><circle cx="273.07" cy="179.42" r="1.75"/><circle cx="274.48" cy="183.21" r="1.75"/><circle cx="275.89" cy="181.74" r="1.75"/><circle cx="277.31" cy="183.37" r="1.75"/><circle cx="278.72" cy="180.98" r="1.75"/><circle cx="280.14" cy="182.6" r="1.75"/><circle cx="281.55" cy="182.19" r="1.75"/></g>
<g fill="none" stroke="#ff00ff" stroke-width="0.85"><circle cx="73.69" cy="49.5" r="1.75"/><circle cx="75.11" cy="50.89" r="1.75"/><circle cx="76.52" cy="53.52" r="1.75"/><circle cx="77.93" cy="54.5" r="1.75"/><circle cx="79.35" cy="56.64" r="1.75"/><circle cx="80.76" cy="59.23" r="1.75"/><circle cx="82.18" cy="63.74" r="1.75"/><circle cx="83.59" cy="65.11" r="1.75"/><circle cx="85" cy="66.87" r="1.75"/><circle cx="86.42" cy="68.79" r="1.75"/><circle cx="87.83" cy="69.3" r="1.75"/><circle cx="89.25" cy="70.87" r="1.75"/><circle cx="90.66" cy="71.33" r="1.75"/><circle cx="92.07" cy="73.68" r="1.75"/><circle cx="93.49" cy="75.07" r="1.75"/><circle cx="94.9" cy="75.01" r="1.75"/><circle cx="96.32" cy="78.43" r="1.75"/><circle cx="97.73" cy="79.59" r="1.75"/><circle cx="99.14" cy="81.1" r="1.75"/><circle cx="100.56" cy="82.37" r="1.75"/><circle cx="101.97" cy="83.56" r="1.75"/><circle cx="103.39" cy="85.71" r="1.75"/><circle cx="104.8" cy="87.74" r="1.75"/><circle cx="106.21" cy="87.75" r="1.75"/><circle cx="107.63" cy="90.4" r="1.75"/><circle cx="109.04" cy="91.33" r="1.75"/><circle cx="110.46" cy="93.06" r="1.75"/><circle cx="111.87" cy="93.4" r="1.75"/><circle cx="113.28" cy="93.68" r="1.75"/><circle cx="114.7" cy="94.64" r="1.75"/><circle cx="116.11" cy="95.04" r="1.75"/><circle cx="117.53" cy="96.67" r="1.75"/><circle cx="118.94" cy="97.39" r="1.75"/><circle cx="120.35" cy="98.37" r="1.75"/><circle cx="121.77" cy="98.82" r="1.75"/><circle cx="123.18" cy="99.69" r="1.75"/><circle cx="124.6" cy="102.01" r="1.75"/><circle cx="126.01" cy="99.71" r="1.75"/><circle cx="127.42" cy="101.86" r="1.75"/><circle cx="128.84" cy="102.17" r="1.75"/><circle cx="130.25" cy="103.36" r="1.75"/><circle cx="131.67" cy="104.11" r="1.75"/><circle cx="133.08" cy="103.6" r="1.75"/><circle cx="134.49" cy="104.47" r="1.75"/><circle cx="135.91" cy="104.19" r="1.75"/><circle cx="137.32" cy="105.25" r="1.75"/><circle cx="138.74" cy="105.22" r="1.75"/><circle cx="140.15" cy="107.52" r="1.75"/><circle cx="141.56" cy="108.29" r="1.75"/><circle cx="142.98" cy="109.41" r="1.75"/><circle cx="144.39" cy="110.23" r="1.75"/><circle cx="145.81" cy="110.61" r="1.75"/><circle cx="147.22" cy="111.1" r="1.75"/><circle cx="148.63" cy="111.22" r="1.75"/><circle cx="150.05" cy="112.58" r="1.75"/><circle cx="151.46" cy="112.92" r="1.75"/><circle cx="152.88" cy="114.35" r="1.75"/><circle cx="154.29" cy="115.8" r="1.75"/><circle cx="155.7" cy="116.38" r="1.75"/><circle cx="157.12" cy="115.59" r="1.75"/><circle cx="158.53" cy="116.63" r="1.75"/><circle cx="159.95" cy="116.96" r="1.75"/><circle cx="161.36" cy="116.13" r="1.75"/><circle cx="162.77" cy="116.42" r="1.75"/><circle cx="164.19" cy="118.34" r="1.75"/><circle cx="165.6" cy="119.03" r="1.75"/><circle cx="167.02" cy="119.01" r="1.75"/><circle cx="168.43" cy="119.2" r="1.75"/><circle cx="169.84" cy="119.37" r="1.75"/><circle cx="171.26" cy="121.05" r="1.75"/><circle cx="172.67" cy="121.65" r="1.75"/><circle cx="174.09" cy="122.95" r="1.75"/><circle cx="175.5" cy="123.97" r="1.75"/><circle cx="176.91" cy="124.87" r="1.75"/><circle cx="178.33" cy="124.21" r="1.75"/><circle cx="179.74" cy="125.24" r="1.75"/><circle cx="181.16" cy="125.96" r="1.75"/><circle cx="182.57" cy="125.4" r="1.75"/><circle cx="183.98" cy="127.32" r="1.75"/><circle cx="185.4" cy="126.15" r="1.75"/><circle cx="186.81" cy="125.96" r="1.75"/><circle cx="188.23" cy="129.27" r="1.75"/><circle cx="189.64" cy="127.55" r="1.75"/><circle cx="191.05" cy="127.95" r="1.75"/><circle cx="192.47" cy="128.58" r="1.75"/><circle cx="193.88" cy="129.89" r="1.75"/><circle cx="195.3" cy="129.86" r="1.75"/><circle cx="196.71" cy="128.88" r="1.75"/><circle cx="198.12" cy="128.72" r="1.75"/><circle cx="199.54" cy="130.93" r="1.75"/><circle cx="200.95" cy="133.47" r="1.75"/><circle cx="202.37" cy="132.09" r="1.75"/><circle cx="203.78" cy="134.42" r="1.75"/><circle cx="205.19" cy="132.68" r="1.75"/><circle cx="206.61" cy="132.6" r="1.75"/><circle cx="208.02" cy="133.09" r="1.75"/><circle cx="209.44" cy="134.42" r="1.75"/><circle cx="210.85" cy="135.16" r="1.75"/><circle cx="212.26" cy="135.49" r="1.75"/><circle cx="213.68" cy="134.91" r="1.75"/><circle cx="215.09" cy="136.2" r="1.75"/><circle cx="216.51" cy="137.28" r="1.75"/><circle cx="217.92" cy="136.52" r="1.75"/><circle cx="219.33" cy="138.17" r="1.75"/><circle cx="220.75" cy="139.51" r="1.75"/><circle cx="222.16" cy="138.24" r="1.75"/><circle cx="223.58" cy="141.49" r="1.75"/><circle cx="224.99" cy="140.1" r="1.75"/><circle cx="226.4" cy="139.45" r="1.75"/><circle cx="227.82" cy="139.56" r="1.75"/><circle cx="229.23" cy="140.33" r="1.75"/><circle cx="230.65" cy="139.64" r="1.75"/><circle cx="232.06" cy="140.18" r="1.75"/><circle cx="233.47" cy="141.98" r="1.75"/><circle cx="234.89" cy="142.05" r="1.75"/><circle cx="236.3" cy="142.08" r="1.75"/><circle cx="237.72" cy="141.9" r="1.75"/><circle cx="239.13" cy="141.86" r="1.75"/><circle cx="240.54" cy="143.5" r="1.75"/><circle cx="241.96" cy="142.61" r="1.75"/><circle cx="243.37" cy="143.05" r="1.75"/><circle cx="244.79" cy="143.91" r="1.75"/><circle cx="246.2" cy="141.19" r="1.75"/><circle cx="247.61" cy="141.61" r="1.75"/><circle cx="249.03" cy="144.74" r="1.75"/><circle cx="250.44" cy="143.49" r="1.75"/><circle cx="251.86" cy="145.99" r="1.75"/><circle cx="253.27" cy="145.06" r="1.75"/><circle cx="254.68" cy="147.92" r="1.75"/><circle cx="256.1" cy="146.62" r="1.75"/><circle cx="257.51" cy="147.06" r="1.75"/><circle cx="258.93" cy="145.31" r="1.75"/><circle cx="260.34" cy="145.66" r="1.75"/><circle cx="261.75" cy="146.77" r="1.75"/><circle cx="263.17" cy="147.36" r="1.75"/><circle cx="264.58" cy="147.67" r="1.75"/><circle cx="266" cy="148.97" r="1.75"/><circle cx="267.41" cy="147.16" r="1.75"/><circle cx="268.82" cy="146.55" r="1.75"/><circle cx="270.24" cy="148.34" r="1.75"/><circle cx="271.65" cy="147.88" r="1.75"/><circle cx="273.07" cy="149.29" r="1.75"/><circle cx="274.48" cy="148.84" r="1.75"/><circle cx="275.89" cy="147.73" r="1.75"/><circle cx="277.31" cy="148.52" r="1.75"/><circle cx="278.72" cy="150.83" r="1.75"/><circle cx="280.14" cy="150.17" r="1.75"/><circle cx="281.55" cy="151.38" r="1.75"/></g>
</g>
<rect x="69.45" y="38.85" width="216" height="216.4" fill="none" stroke="#1a1a1a" stroke-width="1.6"/>
<g stroke="#1a1a1a" stroke-width="0.85" fill="none"><path d="M59.85 41.05H69.45"/><path d="M64.65 77.08H69.45"/><path d="M64.65 68H69.45"/><path d="M64.65 61.56H69.45"/><path d="M64.65 56.57H69.45"/><path d="M64.65 52.49H69.45"/><path d="M64.65 49.04H69.45"/><path d="M64.65 46.05H69.45"/><path d="M64.65 43.41H69.45"/><path d="M59.85 92.6H69.45"/><path d="M64.65 128.63H69.45"/><path d="M64.65 119.55H69.45"/><path d="M64.65 113.11H69.45"/><path d="M64.65 108.12H69.45"/><path d="M64.65 104.04H69.45"/><path d="M64.65 100.59H69.45"/><path d="M64.65 97.6H69.45"/><path d="M64.65 94.96H69.45"/><path d="M59.85 144.15H69.45"/><path d="M64.65 180.18H69.45"/><path d="M64.65 171.1H69.45"/><path d="M64.65 164.66H69.45"/><path d="M64.65 159.67H69.45"/><path d="M64.65 155.59H69.45"/><path d="M64.65 152.14H69.45"/><path d="M64.65 149.15H69.45"/><path d="M64.65 146.51H69.45"/><path d="M59.85 195.7H69.45"/><path d="M64.65 231.73H69.45"/><path d="M64.65 222.65H69.45"/><path d="M64.65 216.21H69.45"/><path d="M64.65 211.22H69.45"/><path d="M64.65 207.14H69.45"/><path d="M64.65 203.69H69.45"/><path d="M64.65 200.7H69.45"/><path d="M64.65 198.06H69.45"/><path d="M59.85 247.25H69.45"/><path d="M64.65 255.24H69.45"/><path d="M64.65 252.25H69.45"/><path d="M64.65 249.61H69.45"/><path d="M69.45 255.25V265.05"/><path d="M104.8 255.25V260.15"/><path d="M140.15 255.25V265.05"/><path d="M175.5 255.25V260.15"/><path d="M210.85 255.25V265.05"/><path d="M246.2 255.25V260.15"/><path d="M281.55 255.25V265.05"/></g>
<text x="54.25" y="44.6" font-size="10.8" text-anchor="end">1</text>
<text x="54.25" y="96.15" font-size="10.8" text-anchor="end">0.1</text>
<text x="54.25" y="147.7" font-size="10.8" text-anchor="end">0.01</text>
<text x="54.25" y="199.25" font-size="10.8" text-anchor="end">0.001</text>
<text x="54.25" y="250.8" font-size="10.8" text-anchor="end">0.0001</text>
<text x="69.45" y="277.8" font-size="10.8" text-anchor="middle">0</text>
<text x="140.15" y="277.8" font-size="10.8" text-anchor="middle">1</text>
<text x="210.85" y="277.8" font-size="10.8" text-anchor="middle">2</text>
<text x="281.55" y="277.8" font-size="10.8" text-anchor="middle">3</text>
<text x="177.05" y="296.1" font-size="13" text-anchor="middle" textLength="87" lengthAdjust="spacingAndGlyphs">PFI delay (ms)</text>
<text transform="translate(10.25 148.0) rotate(-90)" font-size="13" text-anchor="middle" textLength="200.8" lengthAdjust="spacingAndGlyphs">Normalized PFI signal (arb. units)</text>
<text x="15.45" y="15.3" font-size="19" textLength="20.6" lengthAdjust="spacingAndGlyphs">(a)</text>
<circle cx="203.75" cy="52.5" r="2" fill="none" stroke="#000" stroke-width="1"/>
<text y="56.1" font-size="11"><tspan x="223.25" font-style="italic">n</tspan><tspan x="232.75" textLength="7.8" lengthAdjust="spacingAndGlyphs">=</tspan><tspan x="244.45">27</tspan></text>
<circle cx="203.75" cy="64.45" r="2" fill="none" stroke="#ff0000" stroke-width="1"/>
<text y="68.05" font-size="11"><tspan x="223.25" font-style="italic">n</tspan><tspan x="232.75" textLength="7.8" lengthAdjust="spacingAndGlyphs">=</tspan><tspan x="244.45">29</tspan></text>
<circle cx="203.75" cy="76.4" r="2" fill="none" stroke="#0000ff" stroke-width="1"/>
<text y="80" font-size="11"><tspan x="223.25" font-style="italic">n</tspan><tspan x="232.75" textLength="7.8" lengthAdjust="spacingAndGlyphs">=</tspan><tspan x="244.45">31</tspan></text>
<circle cx="203.75" cy="88.35" r="2" fill="none" stroke="#ff00ff" stroke-width="1"/>
<text y="91.95" font-size="11"><tspan x="223.25" font-style="italic">n</tspan><tspan x="232.75" textLength="7.8" lengthAdjust="spacingAndGlyphs">=</tspan><tspan x="244.45">33</tspan></text>
</g>
<g id="panel-b">
<g clip-path="url(#clipb)">
<line x1="383.95" y1="244.9" x2="597.15" y2="244.9" stroke="#2a2a2a" stroke-width="0.95" stroke-dasharray="0.95 1.41"/>
<line x1="381.15" y1="41.05" x2="453.7" y2="257.25" stroke="#000" stroke-width="0.9" stroke-dasharray="3.6 2.3"/>
<line x1="381.15" y1="41.05" x2="477.67" y2="257.25" stroke="#ff0000" stroke-width="0.9" stroke-dasharray="3.6 2.3"/>
<line x1="381.15" y1="41.05" x2="508.33" y2="257.25" stroke="#0000ff" stroke-width="0.9" stroke-dasharray="3.6 2.3"/>
<rect x="392.25" y="226.6" width="84" height="16.6" fill="#fff"/>
<text x="393.45" y="240.5" font-size="10.9" textLength="81.6" lengthAdjust="spacingAndGlyphs">Background level</text>
<path d="M381.15 40.8 L381.88 43.09 L382.61 45.37 L383.34 47.65 L384.07 49.92 L384.8 52.2 L385.52 54.47 L386.25 56.74 L386.98 59 L387.71 61.26 L388.44 63.52 L389.17 65.78 L389.9 68.03 L390.63 70.28 L391.36 72.52 L392.09 74.76 L392.82 77 L393.54 79.23 L394.27 81.45 L395 83.67 L395.73 85.89 L396.46 88.09 L397.19 90.3 L397.92 92.49 L398.65 94.68 L399.38 96.86 L400.11 99.03 L400.84 101.19 L401.56 103.35 L402.29 105.5 L403.02 107.63 L403.75 109.76 L404.48 111.88 L405.21 113.98 L405.94 116.07 L406.67 118.16 L407.4 120.22 L408.13 122.28 L408.86 124.32 L409.58 126.35 L410.31 128.36 L411.04 130.36 L411.77 132.34 L412.5 134.3 L413.23 136.25 L413.96 138.18 L414.69 140.09 L415.42 141.98 L416.15 143.86 L416.88 145.71 L417.6 147.54 L418.33 149.35 L419.06 151.13 L419.79 152.9 L420.52 154.64 L421.25 156.36 L421.98 158.06 L422.71 159.73 L423.44 161.37 L424.17 162.99 L424.9 164.59 L425.62 166.16 L426.35 167.7 L427.08 169.22 L427.81 170.71 L428.54 172.18 L429.27 173.62 L430 175.04 L430.73 176.42 L431.46 177.79 L432.19 179.12 L432.92 180.43 L433.64 181.72 L434.37 182.98 L435.1 184.21 L435.83 185.42 L436.56 186.61 L437.29 187.77 L438.02 188.91 L438.75 190.03 L439.48 191.12 L440.21 192.19 L440.94 193.23 L441.67 194.26 L442.39 195.26 L443.12 196.25 L443.85 197.21 L444.58 198.15 L445.31 199.08 L446.04 199.98 L446.77 200.87 L447.5 201.74 L448.23 202.59 L448.96 203.42 L449.69 204.24 L450.41 205.04 L451.14 205.82 L451.87 206.59 L452.6 207.35 L453.33 208.08 L454.06 208.81 L454.79 209.52 L455.52 210.21 L456.25 210.89 L456.98 211.56 L457.71 212.22 L458.43 212.86 L459.16 213.49 L459.89 214.11 L460.62 214.72 L461.35 215.31 L462.08 215.9 L462.81 216.47 L463.54 217.03 L464.27 217.59 L465 218.13 L465.73 218.66 L466.45 219.18 L467.18 219.69 L467.91 220.2 L468.64 220.69 L469.37 221.17 L470.1 221.65 L470.83 222.12 L471.56 222.58 L472.29 223.03 L473.02 223.47 L473.75 223.9 L474.47 224.33 L475.2 224.75 L475.93 225.16 L476.66 225.57 L477.39 225.96 L478.12 226.36 L478.85 226.74 L479.58 227.12 L480.31 227.49 L481.04 227.85 L481.77 228.21 L482.49 228.57 L483.22 228.91 L483.95 229.26 L484.68 229.59 L485.41 229.92 L486.14 230.25 L486.87 230.57 L487.6 230.89 L488.33 231.2 L489.06 231.51 L489.79 231.81 L490.51 232.11 L491.24 232.4 L491.97 232.69 L492.7 232.97 L493.43 233.26 L494.16 233.53 L494.89 233.81 L495.62 234.08 L496.35 234.34 L497.08 234.61 L497.81 234.87 L498.53 235.12 L499.26 235.38 L499.99 235.63 L500.72 235.88 L501.45 236.12 L502.18 236.36 L502.91 236.6 L503.64 236.84 L504.37 237.08 L505.1 237.31 L505.83 237.54 L506.55 237.77 L507.28 237.99 L508.01 238.21 L508.74 238.44 L509.47 238.65 L510.2 238.87 L510.93 239.09 L511.66 239.3 L512.39 239.51 L513.12 239.72 L513.85 239.93 L514.57 240.14 L515.3 240.35 L516.03 240.55 L516.76 240.75 L517.49 240.95 L518.22 241.15 L518.95 241.35 L519.68 241.55 L520.41 241.75 L521.14 241.94 L521.87 242.14 L522.59 242.33 L523.32 242.52 L524.05 242.71 L524.78 242.9 L525.51 243.09 L526.24 243.28 L526.97 243.47 L527.7 243.65 L528.43 243.84 L529.16 244.02 L529.89 244.21 L530.61 244.39 L531.34 244.57 L532.07 244.76 L532.8 244.94 L533.53 245.12 L534.26 245.3 L534.99 245.48 L535.72 245.66 L536.45 245.84 L537.18 246.01 L537.91 246.19 L538.63 246.37 L539.36 246.54 L540.09 246.72 L540.82 246.9 L541.55 247.07 L542.28 247.25 L543.01 247.42 L543.74 247.6 L544.47 247.77 L545.2 247.94 L545.93 248.12 L546.66 248.29 L547.38 248.46 L548.11 248.63 L548.84 248.8 L549.57 248.98 L550.3 249.15 L551.03 249.32 L551.76 249.49 L552.49 249.66 L553.22 249.83 L553.95 250 L554.68 250.17 L555.4 250.34 L556.13 250.51 L556.86 250.68 L557.59 250.85 L558.32 251.01 L559.05 251.18 L559.78 251.35 L560.51 251.52 L561.24 251.69 L561.97 251.86 L562.7 252.02 L563.42 252.19 L564.15 252.36 L564.88 252.53 L565.61 252.69 L566.34 252.86 L567.07 253.03 L567.8 253.2 L568.53 253.36 L569.26 253.53 L569.99 253.7 L570.72 253.86 L571.44 254.03 L572.17 254.2 L572.9 254.36 L573.63 254.53 L574.36 254.69 L575.09 254.86 L575.82 255.03 L576.55 255.19 L577.28 255.36 L578.01 255.52 L578.74 255.69 L579.46 255.85 L580.19 256.02 L580.92 256.19 L581.65 256.35 L582.38 256.52 L583.11 256.68 L583.84 256.85 L584.57 257.01 L585.3 257.18 L586.03 257.34 L586.76 257.51 L587.48 257.67 L588.21 257.84 L588.94 258 L589.67 258.17 L590.4 258.33 L591.13 258.5 L591.86 258.66 L592.59 258.83 L593.32 258.99 L594.05 259.16 L594.78 259.32 L595.5 259.49 L596.23 259.65 L596.96 259.82 L597.69 259.98 L598.42 260.15 L599.15 260.31" fill="none" stroke="#000" stroke-width="1.55" stroke-linejoin="round"/>
<path d="M381.15 41 L381.88 42.73 L382.61 44.45 L383.34 46.18 L384.07 47.9 L384.8 49.61 L385.52 51.33 L386.25 53.05 L386.98 54.76 L387.71 56.47 L388.44 58.18 L389.17 59.88 L389.9 61.58 L390.63 63.28 L391.36 64.98 L392.09 66.68 L392.82 68.37 L393.54 70.06 L394.27 71.75 L395 73.43 L395.73 75.11 L396.46 76.79 L397.19 78.46 L397.92 80.13 L398.65 81.79 L399.38 83.46 L400.11 85.11 L400.84 86.77 L401.56 88.42 L402.29 90.06 L403.02 91.7 L403.75 93.34 L404.48 94.97 L405.21 96.59 L405.94 98.21 L406.67 99.82 L407.4 101.43 L408.13 103.04 L408.86 104.63 L409.58 106.22 L410.31 107.81 L411.04 109.38 L411.77 110.95 L412.5 112.52 L413.23 114.07 L413.96 115.62 L414.69 117.16 L415.42 118.7 L416.15 120.22 L416.88 121.74 L417.6 123.25 L418.33 124.75 L419.06 126.24 L419.79 127.72 L420.52 129.19 L421.25 130.65 L421.98 132.1 L422.71 133.55 L423.44 134.98 L424.17 136.4 L424.9 137.81 L425.62 139.22 L426.35 140.6 L427.08 141.98 L427.81 143.35 L428.54 144.71 L429.27 146.05 L430 147.38 L430.73 148.7 L431.46 150.01 L432.19 151.31 L432.92 152.59 L433.64 153.86 L434.37 155.12 L435.1 156.36 L435.83 157.59 L436.56 158.81 L437.29 160.02 L438.02 161.21 L438.75 162.39 L439.48 163.55 L440.21 164.71 L440.94 165.85 L441.67 166.97 L442.39 168.08 L443.12 169.18 L443.85 170.27 L444.58 171.34 L445.31 172.39 L446.04 173.44 L446.77 174.47 L447.5 175.49 L448.23 176.49 L448.96 177.48 L449.69 178.46 L450.41 179.43 L451.14 180.38 L451.87 181.32 L452.6 182.24 L453.33 183.16 L454.06 184.06 L454.79 184.94 L455.52 185.82 L456.25 186.68 L456.98 187.54 L457.71 188.37 L458.43 189.2 L459.16 190.02 L459.89 190.82 L460.62 191.61 L461.35 192.39 L462.08 193.16 L462.81 193.92 L463.54 194.67 L464.27 195.41 L465 196.13 L465.73 196.85 L466.45 197.55 L467.18 198.25 L467.91 198.93 L468.64 199.6 L469.37 200.27 L470.1 200.92 L470.83 201.57 L471.56 202.2 L472.29 202.83 L473.02 203.45 L473.75 204.05 L474.47 204.65 L475.2 205.24 L475.93 205.82 L476.66 206.4 L477.39 206.96 L478.12 207.52 L478.85 208.06 L479.58 208.6 L480.31 209.14 L481.04 209.66 L481.77 210.18 L482.49 210.68 L483.22 211.19 L483.95 211.68 L484.68 212.17 L485.41 212.65 L486.14 213.12 L486.87 213.58 L487.6 214.04 L488.33 214.49 L489.06 214.94 L489.79 215.38 L490.51 215.81 L491.24 216.24 L491.97 216.66 L492.7 217.07 L493.43 217.48 L494.16 217.88 L494.89 218.28 L495.62 218.67 L496.35 219.05 L497.08 219.43 L497.81 219.81 L498.53 220.18 L499.26 220.54 L499.99 220.9 L500.72 221.26 L501.45 221.6 L502.18 221.95 L502.91 222.29 L503.64 222.62 L504.37 222.96 L505.1 223.28 L505.83 223.6 L506.55 223.92 L507.28 224.24 L508.01 224.55 L508.74 224.85 L509.47 225.15 L510.2 225.45 L510.93 225.75 L511.66 226.04 L512.39 226.32 L513.12 226.61 L513.85 226.89 L514.57 227.16 L515.3 227.44 L516.03 227.71 L516.76 227.97 L517.49 228.24 L518.22 228.5 L518.95 228.76 L519.68 229.01 L520.41 229.27 L521.14 229.52 L521.87 229.76 L522.59 230.01 L523.32 230.25 L524.05 230.49 L524.78 230.73 L525.51 230.96 L526.24 231.2 L526.97 231.43 L527.7 231.65 L528.43 231.88 L529.16 232.1 L529.89 232.33 L530.61 232.55 L531.34 232.77 L532.07 232.98 L532.8 233.2 L533.53 233.41 L534.26 233.62 L534.99 233.83 L535.72 234.04 L536.45 234.24 L537.18 234.45 L537.91 234.65 L538.63 234.85 L539.36 235.05 L540.09 235.25 L540.82 235.45 L541.55 235.65 L542.28 235.84 L543.01 236.04 L543.74 236.23 L544.47 236.42 L545.2 236.61 L545.93 236.8 L546.66 236.99 L547.38 237.17 L548.11 237.36 L548.84 237.54 L549.57 237.73 L550.3 237.91 L551.03 238.09 L551.76 238.27 L552.49 238.45 L553.22 238.63 L553.95 238.81 L554.68 238.99 L555.4 239.17 L556.13 239.34 L556.86 239.52 L557.59 239.7 L558.32 239.87 L559.05 240.04 L559.78 240.22 L560.51 240.39 L561.24 240.56 L561.97 240.73 L562.7 240.9 L563.42 241.07 L564.15 241.24 L564.88 241.41 L565.61 241.58 L566.34 241.75 L567.07 241.91 L567.8 242.08 L568.53 242.25 L569.26 242.41 L569.99 242.58 L570.72 242.74 L571.44 242.91 L572.17 243.07 L572.9 243.24 L573.63 243.4 L574.36 243.56 L575.09 243.73 L575.82 243.89 L576.55 244.05 L577.28 244.21 L578.01 244.38 L578.74 244.54 L579.46 244.7 L580.19 244.86 L580.92 245.02 L581.65 245.18 L582.38 245.34 L583.11 245.5 L583.84 245.66 L584.57 245.82 L585.3 245.98 L586.03 246.14 L586.76 246.3 L587.48 246.45 L588.21 246.61 L588.94 246.77 L589.67 246.93 L590.4 247.09 L591.13 247.24 L591.86 247.4 L592.59 247.56 L593.32 247.71 L594.05 247.87 L594.78 248.03 L595.5 248.18 L596.23 248.34 L596.96 248.5 L597.69 248.65 L598.42 248.81 L599.15 248.97" fill="none" stroke="#ff0000" stroke-width="1.55" stroke-linejoin="round"/>
<path d="M381.15 40.57 L381.88 41.93 L382.61 43.29 L383.34 44.65 L384.07 46 L384.8 47.35 L385.52 48.7 L386.25 50.05 L386.98 51.39 L387.71 52.74 L388.44 54.08 L389.17 55.41 L389.9 56.75 L390.63 58.08 L391.36 59.41 L392.09 60.73 L392.82 62.06 L393.54 63.38 L394.27 64.7 L395 66.01 L395.73 67.32 L396.46 68.63 L397.19 69.94 L397.92 71.24 L398.65 72.54 L399.38 73.83 L400.11 75.12 L400.84 76.41 L401.56 77.7 L402.29 78.98 L403.02 80.26 L403.75 81.53 L404.48 82.8 L405.21 84.07 L405.94 85.33 L406.67 86.59 L407.4 87.84 L408.13 89.1 L408.86 90.34 L409.58 91.58 L410.31 92.82 L411.04 94.06 L411.77 95.29 L412.5 96.51 L413.23 97.73 L413.96 98.95 L414.69 100.16 L415.42 101.37 L416.15 102.57 L416.88 103.77 L417.6 104.96 L418.33 106.15 L419.06 107.34 L419.79 108.52 L420.52 109.69 L421.25 110.86 L421.98 112.02 L422.71 113.18 L423.44 114.34 L424.17 115.49 L424.9 116.63 L425.62 117.77 L426.35 118.9 L427.08 120.03 L427.81 121.15 L428.54 122.27 L429.27 123.38 L430 124.49 L430.73 125.59 L431.46 126.68 L432.19 127.77 L432.92 128.86 L433.64 129.94 L434.37 131.01 L435.1 132.08 L435.83 133.14 L436.56 134.19 L437.29 135.24 L438.02 136.29 L438.75 137.32 L439.48 138.36 L440.21 139.38 L440.94 140.4 L441.67 141.42 L442.39 142.43 L443.12 143.43 L443.85 144.43 L444.58 145.42 L445.31 146.4 L446.04 147.38 L446.77 148.36 L447.5 149.32 L448.23 150.28 L448.96 151.24 L449.69 152.19 L450.41 153.13 L451.14 154.06 L451.87 154.99 L452.6 155.92 L453.33 156.84 L454.06 157.75 L454.79 158.65 L455.52 159.55 L456.25 160.45 L456.98 161.33 L457.71 162.21 L458.43 163.09 L459.16 163.95 L459.89 164.82 L460.62 165.67 L461.35 166.52 L462.08 167.36 L462.81 168.2 L463.54 169.03 L464.27 169.85 L465 170.67 L465.73 171.48 L466.45 172.29 L467.18 173.08 L467.91 173.88 L468.64 174.66 L469.37 175.44 L470.1 176.21 L470.83 176.98 L471.56 177.74 L472.29 178.49 L473.02 179.24 L473.75 179.98 L474.47 180.71 L475.2 181.44 L475.93 182.16 L476.66 182.87 L477.39 183.58 L478.12 184.28 L478.85 184.98 L479.58 185.66 L480.31 186.35 L481.04 187.02 L481.77 187.69 L482.49 188.35 L483.22 189.01 L483.95 189.66 L484.68 190.3 L485.41 190.94 L486.14 191.57 L486.87 192.19 L487.6 192.81 L488.33 193.42 L489.06 194.02 L489.79 194.62 L490.51 195.21 L491.24 195.79 L491.97 196.37 L492.7 196.94 L493.43 197.51 L494.16 198.07 L494.89 198.62 L495.62 199.17 L496.35 199.71 L497.08 200.24 L497.81 200.77 L498.53 201.29 L499.26 201.81 L499.99 202.32 L500.72 202.83 L501.45 203.32 L502.18 203.82 L502.91 204.3 L503.64 204.78 L504.37 205.26 L505.1 205.73 L505.83 206.19 L506.55 206.65 L507.28 207.1 L508.01 207.55 L508.74 207.99 L509.47 208.42 L510.2 208.85 L510.93 209.28 L511.66 209.7 L512.39 210.11 L513.12 210.52 L513.85 210.93 L514.57 211.33 L515.3 211.72 L516.03 212.11 L516.76 212.5 L517.49 212.88 L518.22 213.25 L518.95 213.62 L519.68 213.99 L520.41 214.35 L521.14 214.71 L521.87 215.06 L522.59 215.41 L523.32 215.75 L524.05 216.1 L524.78 216.43 L525.51 216.76 L526.24 217.09 L526.97 217.42 L527.7 217.74 L528.43 218.06 L529.16 218.37 L529.89 218.68 L530.61 218.99 L531.34 219.29 L532.07 219.59 L532.8 219.88 L533.53 220.18 L534.26 220.47 L534.99 220.75 L535.72 221.04 L536.45 221.32 L537.18 221.59 L537.91 221.87 L538.63 222.14 L539.36 222.41 L540.09 222.68 L540.82 222.94 L541.55 223.2 L542.28 223.46 L543.01 223.72 L543.74 223.97 L544.47 224.22 L545.2 224.47 L545.93 224.72 L546.66 224.96 L547.38 225.21 L548.11 225.45 L548.84 225.68 L549.57 225.92 L550.3 226.16 L551.03 226.39 L551.76 226.62 L552.49 226.85 L553.22 227.07 L553.95 227.3 L554.68 227.52 L555.4 227.75 L556.13 227.97 L556.86 228.18 L557.59 228.4 L558.32 228.62 L559.05 228.83 L559.78 229.04 L560.51 229.26 L561.24 229.47 L561.97 229.67 L562.7 229.88 L563.42 230.09 L564.15 230.29 L564.88 230.5 L565.61 230.7 L566.34 230.9 L567.07 231.1 L567.8 231.3 L568.53 231.5 L569.26 231.7 L569.99 231.9 L570.72 232.09 L571.44 232.29 L572.17 232.48 L572.9 232.67 L573.63 232.86 L574.36 233.06 L575.09 233.25 L575.82 233.44 L576.55 233.62 L577.28 233.81 L578.01 234 L578.74 234.19 L579.46 234.37 L580.19 234.56 L580.92 234.74 L581.65 234.93 L582.38 235.11 L583.11 235.29 L583.84 235.47 L584.57 235.66 L585.3 235.84 L586.03 236.02 L586.76 236.2 L587.48 236.38 L588.21 236.56 L588.94 236.74 L589.67 236.91 L590.4 237.09 L591.13 237.27 L591.86 237.44 L592.59 237.62 L593.32 237.8 L594.05 237.97 L594.78 238.15 L595.5 238.32 L596.23 238.5 L596.96 238.67 L597.69 238.85 L598.42 239.02 L599.15 239.19" fill="none" stroke="#0000ff" stroke-width="1.55" stroke-linejoin="round"/>
<g fill="none" stroke="#000" stroke-width="0.85"><rect x="383.69" y="65.73" width="3.4" height="3.4"/><rect x="385.11" y="69.69" width="3.4" height="3.4"/><rect x="386.52" y="72.54" width="3.4" height="3.4"/><rect x="387.93" y="76.64" width="3.4" height="3.4"/><rect x="389.35" y="81.26" width="3.4" height="3.4"/><rect x="390.76" y="85.92" width="3.4" height="3.4"/><rect x="392.18" y="88.1" width="3.4" height="3.4"/><rect x="393.59" y="89.84" width="3.4" height="3.4"/><rect x="395" y="90.7" width="3.4" height="3.4"/><rect x="396.42" y="93.2" width="3.4" height="3.4"/><rect x="397.83" y="96.13" width="3.4" height="3.4"/><rect x="399.25" y="100.24" width="3.4" height="3.4"/><rect x="400.66" y="102.72" width="3.4" height="3.4"/><rect x="402.07" y="104.65" width="3.4" height="3.4"/><rect x="403.49" y="107.64" width="3.4" height="3.4"/><rect x="404.9" y="111.87" width="3.4" height="3.4"/><rect x="406.32" y="112.49" width="3.4" height="3.4"/><rect x="407.73" y="113.7" width="3.4" height="3.4"/><rect x="409.14" y="116.13" width="3.4" height="3.4"/><rect x="410.56" y="115.84" width="3.4" height="3.4"/><rect x="411.97" y="118.83" width="3.4" height="3.4"/><rect x="413.39" y="118.88" width="3.4" height="3.4"/><rect x="414.8" y="120.78" width="3.4" height="3.4"/><rect x="416.21" y="123.07" width="3.4" height="3.4"/><rect x="417.63" y="124.9" width="3.4" height="3.4"/><rect x="419.04" y="126.26" width="3.4" height="3.4"/><rect x="420.46" y="126.26" width="3.4" height="3.4"/><rect x="421.87" y="127.48" width="3.4" height="3.4"/><rect x="423.28" y="128.93" width="3.4" height="3.4"/><rect x="424.7" y="130.67" width="3.4" height="3.4"/><rect x="426.11" y="131.27" width="3.4" height="3.4"/><rect x="427.53" y="133.12" width="3.4" height="3.4"/><rect x="428.94" y="131.88" width="3.4" height="3.4"/><rect x="430.35" y="133.84" width="3.4" height="3.4"/><rect x="431.77" y="135.04" width="3.4" height="3.4"/><rect x="433.18" y="136.32" width="3.4" height="3.4"/><rect x="434.6" y="138.58" width="3.4" height="3.4"/><rect x="436.01" y="137.5" width="3.4" height="3.4"/><rect x="437.42" y="139.97" width="3.4" height="3.4"/><rect x="438.84" y="141.11" width="3.4" height="3.4"/><rect x="440.25" y="141.03" width="3.4" height="3.4"/><rect x="441.67" y="143.55" width="3.4" height="3.4"/><rect x="443.08" y="144.21" width="3.4" height="3.4"/><rect x="444.49" y="147.22" width="3.4" height="3.4"/><rect x="445.91" y="147.19" width="3.4" height="3.4"/><rect x="447.32" y="147.43" width="3.4" height="3.4"/><rect x="448.74" y="149.67" width="3.4" height="3.4"/><rect x="450.15" y="150.8" width="3.4" height="3.4"/><rect x="451.56" y="150.71" width="3.4" height="3.4"/><rect x="452.98" y="152.73" width="3.4" height="3.4"/><rect x="454.39" y="154.1" width="3.4" height="3.4"/><rect x="455.81" y="156.03" width="3.4" height="3.4"/><rect x="457.22" y="154.47" width="3.4" height="3.4"/><rect x="458.63" y="154.71" width="3.4" height="3.4"/><rect x="460.05" y="156.82" width="3.4" height="3.4"/><rect x="461.46" y="159.05" width="3.4" height="3.4"/><rect x="462.88" y="160.56" width="3.4" height="3.4"/><rect x="464.29" y="159.86" width="3.4" height="3.4"/><rect x="465.7" y="160.68" width="3.4" height="3.4"/><rect x="467.12" y="160.87" width="3.4" height="3.4"/><rect x="468.53" y="161.02" width="3.4" height="3.4"/><rect x="469.95" y="162.19" width="3.4" height="3.4"/><rect x="471.36" y="164.18" width="3.4" height="3.4"/><rect x="472.77" y="164.67" width="3.4" height="3.4"/><rect x="474.19" y="164.86" width="3.4" height="3.4"/><rect x="475.6" y="165.19" width="3.4" height="3.4"/><rect x="477.02" y="163.62" width="3.4" height="3.4"/><rect x="478.43" y="166.38" width="3.4" height="3.4"/><rect x="479.84" y="168.08" width="3.4" height="3.4"/><rect x="481.26" y="167.24" width="3.4" height="3.4"/><rect x="482.67" y="171.18" width="3.4" height="3.4"/><rect x="484.09" y="169.67" width="3.4" height="3.4"/><rect x="485.5" y="170.23" width="3.4" height="3.4"/><rect x="486.91" y="172.33" width="3.4" height="3.4"/><rect x="488.33" y="173.02" width="3.4" height="3.4"/><rect x="489.74" y="173.43" width="3.4" height="3.4"/><rect x="491.16" y="172.06" width="3.4" height="3.4"/><rect x="492.57" y="174.46" width="3.4" height="3.4"/><rect x="493.98" y="175.3" width="3.4" height="3.4"/><rect x="495.4" y="174.14" width="3.4" height="3.4"/><rect x="496.81" y="175.72" width="3.4" height="3.4"/><rect x="498.23" y="175.24" width="3.4" height="3.4"/><rect x="499.64" y="175.43" width="3.4" height="3.4"/><rect x="501.05" y="175.87" width="3.4" height="3.4"/><rect x="502.47" y="179.29" width="3.4" height="3.4"/><rect x="503.88" y="179.36" width="3.4" height="3.4"/><rect x="505.3" y="181.76" width="3.4" height="3.4"/><rect x="506.71" y="180.87" width="3.4" height="3.4"/><rect x="508.12" y="182.57" width="3.4" height="3.4"/><rect x="509.54" y="180.92" width="3.4" height="3.4"/><rect x="510.95" y="183.65" width="3.4" height="3.4"/><rect x="512.37" y="181.89" width="3.4" height="3.4"/><rect x="513.78" y="185.05" width="3.4" height="3.4"/><rect x="515.19" y="185.4" width="3.4" height="3.4"/><rect x="516.61" y="183.81" width="3.4" height="3.4"/><rect x="518.02" y="186.82" width="3.4" height="3.4"/><rect x="519.44" y="184.05" width="3.4" height="3.4"/><rect x="520.85" y="188.25" width="3.4" height="3.4"/><rect x="522.26" y="186.52" width="3.4" height="3.4"/><rect x="523.68" y="189.97" width="3.4" height="3.4"/><rect x="525.09" y="193.31" width="3.4" height="3.4"/><rect x="526.51" y="192.35" width="3.4" height="3.4"/><rect x="527.92" y="191.91" width="3.4" height="3.4"/><rect x="529.33" y="187.61" width="3.4" height="3.4"/><rect x="530.75" y="195.04" width="3.4" height="3.4"/><rect x="532.16" y="193.95" width="3.4" height="3.4"/><rect x="533.58" y="198.16" width="3.4" height="3.4"/><rect x="534.99" y="196.57" width="3.4" height="3.4"/><rect x="536.4" y="194.73" width="3.4" height="3.4"/><rect x="537.82" y="190.96" width="3.4" height="3.4"/><rect x="539.23" y="193.32" width="3.4" height="3.4"/><rect x="540.65" y="195.41" width="3.4" height="3.4"/><rect x="542.06" y="200.08" width="3.4" height="3.4"/><rect x="543.47" y="199.85" width="3.4" height="3.4"/><rect x="544.89" y="196.9" width="3.4" height="3.4"/><rect x="546.3" y="196.88" width="3.4" height="3.4"/><rect x="547.72" y="196.66" width="3.4" height="3.4"/><rect x="549.13" y="202.11" width="3.4" height="3.4"/><rect x="550.54" y="199.5" width="3.4" height="3.4"/><rect x="551.96" y="197.08" width="3.4" height="3.4"/><rect x="553.37" y="201.39" width="3.4" height="3.4"/><rect x="554.79" y="203.36" width="3.4" height="3.4"/><rect x="556.2" y="202.97" width="3.4" height="3.4"/><rect x="557.61" y="203.28" width="3.4" height="3.4"/><rect x="559.03" y="203.23" width="3.4" height="3.4"/><rect x="560.44" y="202.65" width="3.4" height="3.4"/><rect x="561.86" y="200.17" width="3.4" height="3.4"/><rect x="563.27" y="200.58" width="3.4" height="3.4"/><rect x="564.68" y="201.78" width="3.4" height="3.4"/><rect x="566.1" y="204.97" width="3.4" height="3.4"/><rect x="567.51" y="201.25" width="3.4" height="3.4"/><rect x="568.93" y="204.09" width="3.4" height="3.4"/><rect x="570.34" y="207.14" width="3.4" height="3.4"/><rect x="571.75" y="207.72" width="3.4" height="3.4"/><rect x="573.17" y="206.17" width="3.4" height="3.4"/><rect x="574.58" y="197.64" width="3.4" height="3.4"/><rect x="576" y="210.28" width="3.4" height="3.4"/><rect x="577.41" y="205.37" width="3.4" height="3.4"/><rect x="578.82" y="205.09" width="3.4" height="3.4"/><rect x="580.24" y="201.94" width="3.4" height="3.4"/><rect x="581.65" y="205.36" width="3.4" height="3.4"/><rect x="583.07" y="206.88" width="3.4" height="3.4"/><rect x="584.48" y="207.69" width="3.4" height="3.4"/><rect x="585.89" y="204.29" width="3.4" height="3.4"/><rect x="587.31" y="209.71" width="3.4" height="3.4"/><rect x="588.72" y="208.16" width="3.4" height="3.4"/><rect x="590.14" y="206.59" width="3.4" height="3.4"/><rect x="591.55" y="209.11" width="3.4" height="3.4"/></g>
<g fill="none" stroke="#ff0000" stroke-width="0.85"><rect x="383.69" y="45.49" width="3.4" height="3.4"/><rect x="385.11" y="47.55" width="3.4" height="3.4"/><rect x="386.52" y="50.85" width="3.4" height="3.4"/><rect x="387.93" y="56.33" width="3.4" height="3.4"/><rect x="389.35" y="62.27" width="3.4" height="3.4"/><rect x="390.76" y="65.68" width="3.4" height="3.4"/><rect x="392.18" y="67.65" width="3.4" height="3.4"/><rect x="393.59" y="70.44" width="3.4" height="3.4"/><rect x="395" y="74.47" width="3.4" height="3.4"/><rect x="396.42" y="77.15" width="3.4" height="3.4"/><rect x="397.83" y="80.3" width="3.4" height="3.4"/><rect x="399.25" y="82.94" width="3.4" height="3.4"/><rect x="400.66" y="85.36" width="3.4" height="3.4"/><rect x="402.07" y="87.3" width="3.4" height="3.4"/><rect x="403.49" y="89.67" width="3.4" height="3.4"/><rect x="404.9" y="93.89" width="3.4" height="3.4"/><rect x="406.32" y="95.74" width="3.4" height="3.4"/><rect x="407.73" y="97.54" width="3.4" height="3.4"/><rect x="409.14" y="99.46" width="3.4" height="3.4"/><rect x="410.56" y="101.09" width="3.4" height="3.4"/><rect x="411.97" y="103.14" width="3.4" height="3.4"/><rect x="413.39" y="103.91" width="3.4" height="3.4"/><rect x="414.8" y="107.46" width="3.4" height="3.4"/><rect x="416.21" y="107.81" width="3.4" height="3.4"/><rect x="417.63" y="109.33" width="3.4" height="3.4"/><rect x="419.04" y="109.24" width="3.4" height="3.4"/><rect x="420.46" y="113.51" width="3.4" height="3.4"/><rect x="421.87" y="112.8" width="3.4" height="3.4"/><rect x="423.28" y="113.71" width="3.4" height="3.4"/><rect x="424.7" y="114.83" width="3.4" height="3.4"/><rect x="426.11" y="117.65" width="3.4" height="3.4"/><rect x="427.53" y="117.48" width="3.4" height="3.4"/><rect x="428.94" y="118.71" width="3.4" height="3.4"/><rect x="430.35" y="120.2" width="3.4" height="3.4"/><rect x="431.77" y="121.28" width="3.4" height="3.4"/><rect x="433.18" y="123.29" width="3.4" height="3.4"/><rect x="434.6" y="123.39" width="3.4" height="3.4"/><rect x="436.01" y="124.25" width="3.4" height="3.4"/><rect x="437.42" y="125.99" width="3.4" height="3.4"/><rect x="438.84" y="128.51" width="3.4" height="3.4"/><rect x="440.25" y="129.96" width="3.4" height="3.4"/><rect x="441.67" y="129.6" width="3.4" height="3.4"/><rect x="443.08" y="132.16" width="3.4" height="3.4"/><rect x="444.49" y="132.77" width="3.4" height="3.4"/><rect x="445.91" y="133.62" width="3.4" height="3.4"/><rect x="447.32" y="135.79" width="3.4" height="3.4"/><rect x="448.74" y="134.66" width="3.4" height="3.4"/><rect x="450.15" y="136.8" width="3.4" height="3.4"/><rect x="451.56" y="137.47" width="3.4" height="3.4"/><rect x="452.98" y="138.14" width="3.4" height="3.4"/><rect x="454.39" y="137.44" width="3.4" height="3.4"/><rect x="455.81" y="139.55" width="3.4" height="3.4"/><rect x="457.22" y="141.8" width="3.4" height="3.4"/><rect x="458.63" y="141.96" width="3.4" height="3.4"/><rect x="460.05" y="143.97" width="3.4" height="3.4"/><rect x="461.46" y="144.21" width="3.4" height="3.4"/><rect x="462.88" y="143.81" width="3.4" height="3.4"/><rect x="464.29" y="144.96" width="3.4" height="3.4"/><rect x="465.7" y="144.8" width="3.4" height="3.4"/><rect x="467.12" y="145.56" width="3.4" height="3.4"/><rect x="468.53" y="145.92" width="3.4" height="3.4"/><rect x="469.95" y="147.43" width="3.4" height="3.4"/><rect x="471.36" y="148.34" width="3.4" height="3.4"/><rect x="472.77" y="148.25" width="3.4" height="3.4"/><rect x="474.19" y="149.6" width="3.4" height="3.4"/><rect x="475.6" y="151.42" width="3.4" height="3.4"/><rect x="477.02" y="151" width="3.4" height="3.4"/><rect x="478.43" y="152.95" width="3.4" height="3.4"/><rect x="479.84" y="151.26" width="3.4" height="3.4"/><rect x="481.26" y="151.74" width="3.4" height="3.4"/><rect x="482.67" y="152.67" width="3.4" height="3.4"/><rect x="484.09" y="153.83" width="3.4" height="3.4"/><rect x="485.5" y="155.71" width="3.4" height="3.4"/><rect x="486.91" y="155.9" width="3.4" height="3.4"/><rect x="488.33" y="157.61" width="3.4" height="3.4"/><rect x="489.74" y="157.47" width="3.4" height="3.4"/><rect x="491.16" y="158.02" width="3.4" height="3.4"/><rect x="492.57" y="158.43" width="3.4" height="3.4"/><rect x="493.98" y="160.52" width="3.4" height="3.4"/><rect x="495.4" y="160.28" width="3.4" height="3.4"/><rect x="496.81" y="159.81" width="3.4" height="3.4"/><rect x="498.23" y="162.91" width="3.4" height="3.4"/><rect x="499.64" y="161.55" width="3.4" height="3.4"/><rect x="501.05" y="162.52" width="3.4" height="3.4"/><rect x="502.47" y="164.03" width="3.4" height="3.4"/><rect x="503.88" y="165.68" width="3.4" height="3.4"/><rect x="505.3" y="166.67" width="3.4" height="3.4"/><rect x="506.71" y="165.74" width="3.4" height="3.4"/><rect x="508.12" y="167.06" width="3.4" height="3.4"/><rect x="509.54" y="165.74" width="3.4" height="3.4"/><rect x="510.95" y="168.16" width="3.4" height="3.4"/><rect x="512.37" y="168.49" width="3.4" height="3.4"/><rect x="513.78" y="169.5" width="3.4" height="3.4"/><rect x="515.19" y="168.44" width="3.4" height="3.4"/><rect x="516.61" y="170.29" width="3.4" height="3.4"/><rect x="518.02" y="170.15" width="3.4" height="3.4"/><rect x="519.44" y="170.82" width="3.4" height="3.4"/><rect x="520.85" y="171.28" width="3.4" height="3.4"/><rect x="522.26" y="173.96" width="3.4" height="3.4"/><rect x="523.68" y="173.78" width="3.4" height="3.4"/><rect x="525.09" y="171.26" width="3.4" height="3.4"/><rect x="526.51" y="172.46" width="3.4" height="3.4"/><rect x="527.92" y="173.06" width="3.4" height="3.4"/><rect x="529.33" y="172.41" width="3.4" height="3.4"/><rect x="530.75" y="173.85" width="3.4" height="3.4"/><rect x="532.16" y="174.81" width="3.4" height="3.4"/><rect x="533.58" y="173.92" width="3.4" height="3.4"/><rect x="534.99" y="175.4" width="3.4" height="3.4"/><rect x="536.4" y="177.08" width="3.4" height="3.4"/><rect x="537.82" y="175.84" width="3.4" height="3.4"/><rect x="539.23" y="177.23" width="3.4" height="3.4"/><rect x="540.65" y="177.7" width="3.4" height="3.4"/><rect x="542.06" y="176.65" width="3.4" height="3.4"/><rect x="543.47" y="179.47" width="3.4" height="3.4"/><rect x="544.89" y="180.29" width="3.4" height="3.4"/><rect x="546.3" y="180.99" width="3.4" height="3.4"/><rect x="547.72" y="180.78" width="3.4" height="3.4"/><rect x="549.13" y="181.93" width="3.4" height="3.4"/><rect x="550.54" y="180.8" width="3.4" height="3.4"/><rect x="551.96" y="182.42" width="3.4" height="3.4"/><rect x="553.37" y="181.88" width="3.4" height="3.4"/><rect x="554.79" y="182.4" width="3.4" height="3.4"/><rect x="556.2" y="181.24" width="3.4" height="3.4"/><rect x="557.61" y="181.95" width="3.4" height="3.4"/><rect x="559.03" y="180.92" width="3.4" height="3.4"/><rect x="560.44" y="183.57" width="3.4" height="3.4"/><rect x="561.86" y="183.13" width="3.4" height="3.4"/><rect x="563.27" y="185.34" width="3.4" height="3.4"/><rect x="564.68" y="185.16" width="3.4" height="3.4"/><rect x="566.1" y="188.18" width="3.4" height="3.4"/><rect x="567.51" y="184.89" width="3.4" height="3.4"/><rect x="568.93" y="184.99" width="3.4" height="3.4"/><rect x="570.34" y="189.31" width="3.4" height="3.4"/><rect x="571.75" y="185.3" width="3.4" height="3.4"/><rect x="573.17" y="189.63" width="3.4" height="3.4"/><rect x="574.58" y="190.34" width="3.4" height="3.4"/><rect x="576" y="188.37" width="3.4" height="3.4"/><rect x="577.41" y="186.54" width="3.4" height="3.4"/><rect x="578.82" y="188.82" width="3.4" height="3.4"/><rect x="580.24" y="191.49" width="3.4" height="3.4"/><rect x="581.65" y="191.65" width="3.4" height="3.4"/><rect x="583.07" y="192.69" width="3.4" height="3.4"/><rect x="584.48" y="191.57" width="3.4" height="3.4"/><rect x="585.89" y="191.89" width="3.4" height="3.4"/><rect x="587.31" y="193.17" width="3.4" height="3.4"/><rect x="588.72" y="191.2" width="3.4" height="3.4"/><rect x="590.14" y="191.73" width="3.4" height="3.4"/><rect x="591.55" y="193.47" width="3.4" height="3.4"/></g>
<g fill="none" stroke="#0000ff" stroke-width="0.85"><rect x="383.69" y="57.27" width="3.4" height="3.4"/><rect x="385.11" y="60.82" width="3.4" height="3.4"/><rect x="386.52" y="63.95" width="3.4" height="3.4"/><rect x="387.93" y="65.87" width="3.4" height="3.4"/><rect x="389.35" y="67.72" width="3.4" height="3.4"/><rect x="390.76" y="66.95" width="3.4" height="3.4"/><rect x="392.18" y="68.86" width="3.4" height="3.4"/><rect x="393.59" y="69.13" width="3.4" height="3.4"/><rect x="395" y="69.79" width="3.4" height="3.4"/><rect x="396.42" y="71.62" width="3.4" height="3.4"/><rect x="397.83" y="72.42" width="3.4" height="3.4"/><rect x="399.25" y="72.95" width="3.4" height="3.4"/><rect x="400.66" y="75.91" width="3.4" height="3.4"/><rect x="402.07" y="78.43" width="3.4" height="3.4"/><rect x="403.49" y="79.09" width="3.4" height="3.4"/><rect x="404.9" y="81.43" width="3.4" height="3.4"/><rect x="406.32" y="82.56" width="3.4" height="3.4"/><rect x="407.73" y="84" width="3.4" height="3.4"/><rect x="409.14" y="84.68" width="3.4" height="3.4"/><rect x="410.56" y="87.49" width="3.4" height="3.4"/><rect x="411.97" y="90.06" width="3.4" height="3.4"/><rect x="413.39" y="89.88" width="3.4" height="3.4"/><rect x="414.8" y="91.35" width="3.4" height="3.4"/><rect x="416.21" y="94.5" width="3.4" height="3.4"/><rect x="417.63" y="94.53" width="3.4" height="3.4"/><rect x="419.04" y="96.47" width="3.4" height="3.4"/><rect x="420.46" y="97.84" width="3.4" height="3.4"/><rect x="421.87" y="97.95" width="3.4" height="3.4"/><rect x="423.28" y="99.53" width="3.4" height="3.4"/><rect x="424.7" y="100.51" width="3.4" height="3.4"/><rect x="426.11" y="102.61" width="3.4" height="3.4"/><rect x="427.53" y="102.67" width="3.4" height="3.4"/><rect x="428.94" y="104.45" width="3.4" height="3.4"/><rect x="430.35" y="105.11" width="3.4" height="3.4"/><rect x="431.77" y="107.3" width="3.4" height="3.4"/><rect x="433.18" y="107.82" width="3.4" height="3.4"/><rect x="434.6" y="108.8" width="3.4" height="3.4"/><rect x="436.01" y="109.77" width="3.4" height="3.4"/><rect x="437.42" y="110.52" width="3.4" height="3.4"/><rect x="438.84" y="111.22" width="3.4" height="3.4"/><rect x="440.25" y="111.77" width="3.4" height="3.4"/><rect x="441.67" y="112.31" width="3.4" height="3.4"/><rect x="443.08" y="112.78" width="3.4" height="3.4"/><rect x="444.49" y="114.19" width="3.4" height="3.4"/><rect x="445.91" y="114.86" width="3.4" height="3.4"/><rect x="447.32" y="116.51" width="3.4" height="3.4"/><rect x="448.74" y="114.64" width="3.4" height="3.4"/><rect x="450.15" y="115.65" width="3.4" height="3.4"/><rect x="451.56" y="117.6" width="3.4" height="3.4"/><rect x="452.98" y="117.46" width="3.4" height="3.4"/><rect x="454.39" y="119.04" width="3.4" height="3.4"/><rect x="455.81" y="119.17" width="3.4" height="3.4"/><rect x="457.22" y="120.26" width="3.4" height="3.4"/><rect x="458.63" y="119.91" width="3.4" height="3.4"/><rect x="460.05" y="118.81" width="3.4" height="3.4"/><rect x="461.46" y="121.71" width="3.4" height="3.4"/><rect x="462.88" y="120.77" width="3.4" height="3.4"/><rect x="464.29" y="123.14" width="3.4" height="3.4"/><rect x="465.7" y="124.73" width="3.4" height="3.4"/><rect x="467.12" y="124.44" width="3.4" height="3.4"/><rect x="468.53" y="124.28" width="3.4" height="3.4"/><rect x="469.95" y="124.93" width="3.4" height="3.4"/><rect x="471.36" y="126.11" width="3.4" height="3.4"/><rect x="472.77" y="126.22" width="3.4" height="3.4"/><rect x="474.19" y="126.48" width="3.4" height="3.4"/><rect x="475.6" y="127.42" width="3.4" height="3.4"/><rect x="477.02" y="127.82" width="3.4" height="3.4"/><rect x="478.43" y="129.84" width="3.4" height="3.4"/><rect x="479.84" y="130.06" width="3.4" height="3.4"/><rect x="481.26" y="131.76" width="3.4" height="3.4"/><rect x="482.67" y="130.8" width="3.4" height="3.4"/><rect x="484.09" y="131.7" width="3.4" height="3.4"/><rect x="485.5" y="132.52" width="3.4" height="3.4"/><rect x="486.91" y="133.02" width="3.4" height="3.4"/><rect x="488.33" y="133.24" width="3.4" height="3.4"/><rect x="489.74" y="134.6" width="3.4" height="3.4"/><rect x="491.16" y="135.49" width="3.4" height="3.4"/><rect x="492.57" y="134.78" width="3.4" height="3.4"/><rect x="493.98" y="134.6" width="3.4" height="3.4"/><rect x="495.4" y="136" width="3.4" height="3.4"/><rect x="496.81" y="135.88" width="3.4" height="3.4"/><rect x="498.23" y="136.23" width="3.4" height="3.4"/><rect x="499.64" y="138.73" width="3.4" height="3.4"/><rect x="501.05" y="137.23" width="3.4" height="3.4"/><rect x="502.47" y="138.38" width="3.4" height="3.4"/><rect x="503.88" y="138.31" width="3.4" height="3.4"/><rect x="505.3" y="139.36" width="3.4" height="3.4"/><rect x="506.71" y="139.67" width="3.4" height="3.4"/><rect x="508.12" y="140.48" width="3.4" height="3.4"/><rect x="509.54" y="141.02" width="3.4" height="3.4"/><rect x="510.95" y="141.42" width="3.4" height="3.4"/><rect x="512.37" y="143.49" width="3.4" height="3.4"/><rect x="513.78" y="141.95" width="3.4" height="3.4"/><rect x="515.19" y="144.9" width="3.4" height="3.4"/><rect x="516.61" y="142.95" width="3.4" height="3.4"/><rect x="518.02" y="143.73" width="3.4" height="3.4"/><rect x="519.44" y="144.11" width="3.4" height="3.4"/><rect x="520.85" y="143.52" width="3.4" height="3.4"/><rect x="522.26" y="145.28" width="3.4" height="3.4"/><rect x="523.68" y="146.84" width="3.4" height="3.4"/><rect x="525.09" y="147.02" width="3.4" height="3.4"/><rect x="526.51" y="147.05" width="3.4" height="3.4"/><rect x="527.92" y="149.36" width="3.4" height="3.4"/><rect x="529.33" y="148.5" width="3.4" height="3.4"/><rect x="530.75" y="149.66" width="3.4" height="3.4"/><rect x="532.16" y="151.49" width="3.4" height="3.4"/><rect x="533.58" y="150.14" width="3.4" height="3.4"/><rect x="534.99" y="150.15" width="3.4" height="3.4"/><rect x="536.4" y="152.75" width="3.4" height="3.4"/><rect x="537.82" y="149.48" width="3.4" height="3.4"/><rect x="539.23" y="151.33" width="3.4" height="3.4"/><rect x="540.65" y="150.51" width="3.4" height="3.4"/><rect x="542.06" y="152.01" width="3.4" height="3.4"/><rect x="543.47" y="151.56" width="3.4" height="3.4"/><rect x="544.89" y="152.71" width="3.4" height="3.4"/><rect x="546.3" y="152.08" width="3.4" height="3.4"/><rect x="547.72" y="153.77" width="3.4" height="3.4"/><rect x="549.13" y="152.98" width="3.4" height="3.4"/><rect x="550.54" y="153.83" width="3.4" height="3.4"/><rect x="551.96" y="153.76" width="3.4" height="3.4"/><rect x="553.37" y="156.52" width="3.4" height="3.4"/><rect x="554.79" y="154.35" width="3.4" height="3.4"/><rect x="556.2" y="156.27" width="3.4" height="3.4"/><rect x="557.61" y="156.96" width="3.4" height="3.4"/><rect x="559.03" y="156.85" width="3.4" height="3.4"/><rect x="560.44" y="157.21" width="3.4" height="3.4"/><rect x="561.86" y="156.29" width="3.4" height="3.4"/><rect x="563.27" y="159.3" width="3.4" height="3.4"/><rect x="564.68" y="156.56" width="3.4" height="3.4"/><rect x="566.1" y="157.75" width="3.4" height="3.4"/><rect x="567.51" y="158.2" width="3.4" height="3.4"/><rect x="568.93" y="158.02" width="3.4" height="3.4"/><rect x="570.34" y="160.15" width="3.4" height="3.4"/><rect x="571.75" y="159.78" width="3.4" height="3.4"/><rect x="573.17" y="158.86" width="3.4" height="3.4"/><rect x="574.58" y="159.78" width="3.4" height="3.4"/><rect x="576" y="161.85" width="3.4" height="3.4"/><rect x="577.41" y="161.95" width="3.4" height="3.4"/><rect x="578.82" y="162.13" width="3.4" height="3.4"/><rect x="580.24" y="162.52" width="3.4" height="3.4"/><rect x="581.65" y="162.5" width="3.4" height="3.4"/><rect x="583.07" y="161.65" width="3.4" height="3.4"/><rect x="584.48" y="163.14" width="3.4" height="3.4"/><rect x="585.89" y="163.02" width="3.4" height="3.4"/><rect x="587.31" y="163.2" width="3.4" height="3.4"/><rect x="588.72" y="162.16" width="3.4" height="3.4"/><rect x="590.14" y="162.02" width="3.4" height="3.4"/><rect x="591.55" y="163.93" width="3.4" height="3.4"/></g>
</g>
<rect x="381.15" y="38.85" width="216" height="216.4" fill="none" stroke="#1a1a1a" stroke-width="1.6"/>
<g stroke="#1a1a1a" stroke-width="0.85" fill="none"><path d="M371.55 41.05H381.15"/><path d="M376.35 77.08H381.15"/><path d="M376.35 68H381.15"/><path d="M376.35 61.56H381.15"/><path d="M376.35 56.57H381.15"/><path d="M376.35 52.49H381.15"/><path d="M376.35 49.04H381.15"/><path d="M376.35 46.05H381.15"/><path d="M376.35 43.41H381.15"/><path d="M371.55 92.6H381.15"/><path d="M376.35 128.63H381.15"/><path d="M376.35 119.55H381.15"/><path d="M376.35 113.11H381.15"/><path d="M376.35 108.12H381.15"/><path d="M376.35 104.04H381.15"/><path d="M376.35 100.59H381.15"/><path d="M376.35 97.6H381.15"/><path d="M376.35 94.96H381.15"/><path d="M371.55 144.15H381.15"/><path d="M376.35 180.18H381.15"/><path d="M376.35 171.1H381.15"/><path d="M376.35 164.66H381.15"/><path d="M376.35 159.67H381.15"/><path d="M376.35 155.59H381.15"/><path d="M376.35 152.14H381.15"/><path d="M376.35 149.15H381.15"/><path d="M376.35 146.51H381.15"/><path d="M371.55 195.7H381.15"/><path d="M376.35 231.73H381.15"/><path d="M376.35 222.65H381.15"/><path d="M376.35 216.21H381.15"/><path d="M376.35 211.22H381.15"/><path d="M376.35 207.14H381.15"/><path d="M376.35 203.69H381.15"/><path d="M376.35 200.7H381.15"/><path d="M376.35 198.06H381.15"/><path d="M371.55 247.25H381.15"/><path d="M376.35 255.24H381.15"/><path d="M376.35 252.25H381.15"/><path d="M376.35 249.61H381.15"/><path d="M381.15 255.25V265.05"/><path d="M416.5 255.25V260.15"/><path d="M451.85 255.25V265.05"/><path d="M487.2 255.25V260.15"/><path d="M522.55 255.25V265.05"/><path d="M557.9 255.25V260.15"/><path d="M593.25 255.25V265.05"/></g>
<text x="365.95" y="44.6" font-size="10.8" text-anchor="end">1</text>
<text x="365.95" y="96.15" font-size="10.8" text-anchor="end">0.1</text>
<text x="365.95" y="147.7" font-size="10.8" text-anchor="end">0.01</text>
<text x="365.95" y="199.25" font-size="10.8" text-anchor="end">0.001</text>
<text x="365.95" y="250.8" font-size="10.8" text-anchor="end">0.0001</text>
<text x="381.15" y="277.8" font-size="10.8" text-anchor="middle">0</text>
<text x="451.85" y="277.8" font-size="10.8" text-anchor="middle">1</text>
<text x="522.55" y="277.8" font-size="10.8" text-anchor="middle">2</text>
<text x="593.25" y="277.8" font-size="10.8" text-anchor="middle">3</text>
<text x="488.75" y="296.1" font-size="13" text-anchor="middle" textLength="87" lengthAdjust="spacingAndGlyphs">PFI delay (ms)</text>
<text transform="translate(321.95 148.0) rotate(-90)" font-size="13" text-anchor="middle" textLength="200.8" lengthAdjust="spacingAndGlyphs">Normalized PFI signal (arb. units)</text>
<text x="327.15" y="15.3" font-size="19" textLength="20.6" lengthAdjust="spacingAndGlyphs">(b)</text>
<rect x="513.65" y="50.7" width="3.6" height="3.6" fill="none" stroke="#000" stroke-width="0.9"/>
<text y="56.1" font-size="11"><tspan x="534.95" font-style="italic">n</tspan><tspan x="544.45" textLength="7.8" lengthAdjust="spacingAndGlyphs">=</tspan><tspan x="556.15">28</tspan></text>
<rect x="513.65" y="62.65" width="3.6" height="3.6" fill="none" stroke="#ff0000" stroke-width="0.9"/>
<text y="68.05" font-size="11"><tspan x="534.95" font-style="italic">n</tspan><tspan x="544.45" textLength="7.8" lengthAdjust="spacingAndGlyphs">=</tspan><tspan x="556.15">30</tspan></text>
<rect x="513.65" y="74.6" width="3.6" height="3.6" fill="none" stroke="#0000ff" stroke-width="0.9"/>
<text y="80" font-size="11"><tspan x="534.95" font-style="italic">n</tspan><tspan x="544.45" textLength="7.8" lengthAdjust="spacingAndGlyphs">=</tspan><tspan x="556.15">32</tspan></text>
</g>
</svg>
</body></html>
